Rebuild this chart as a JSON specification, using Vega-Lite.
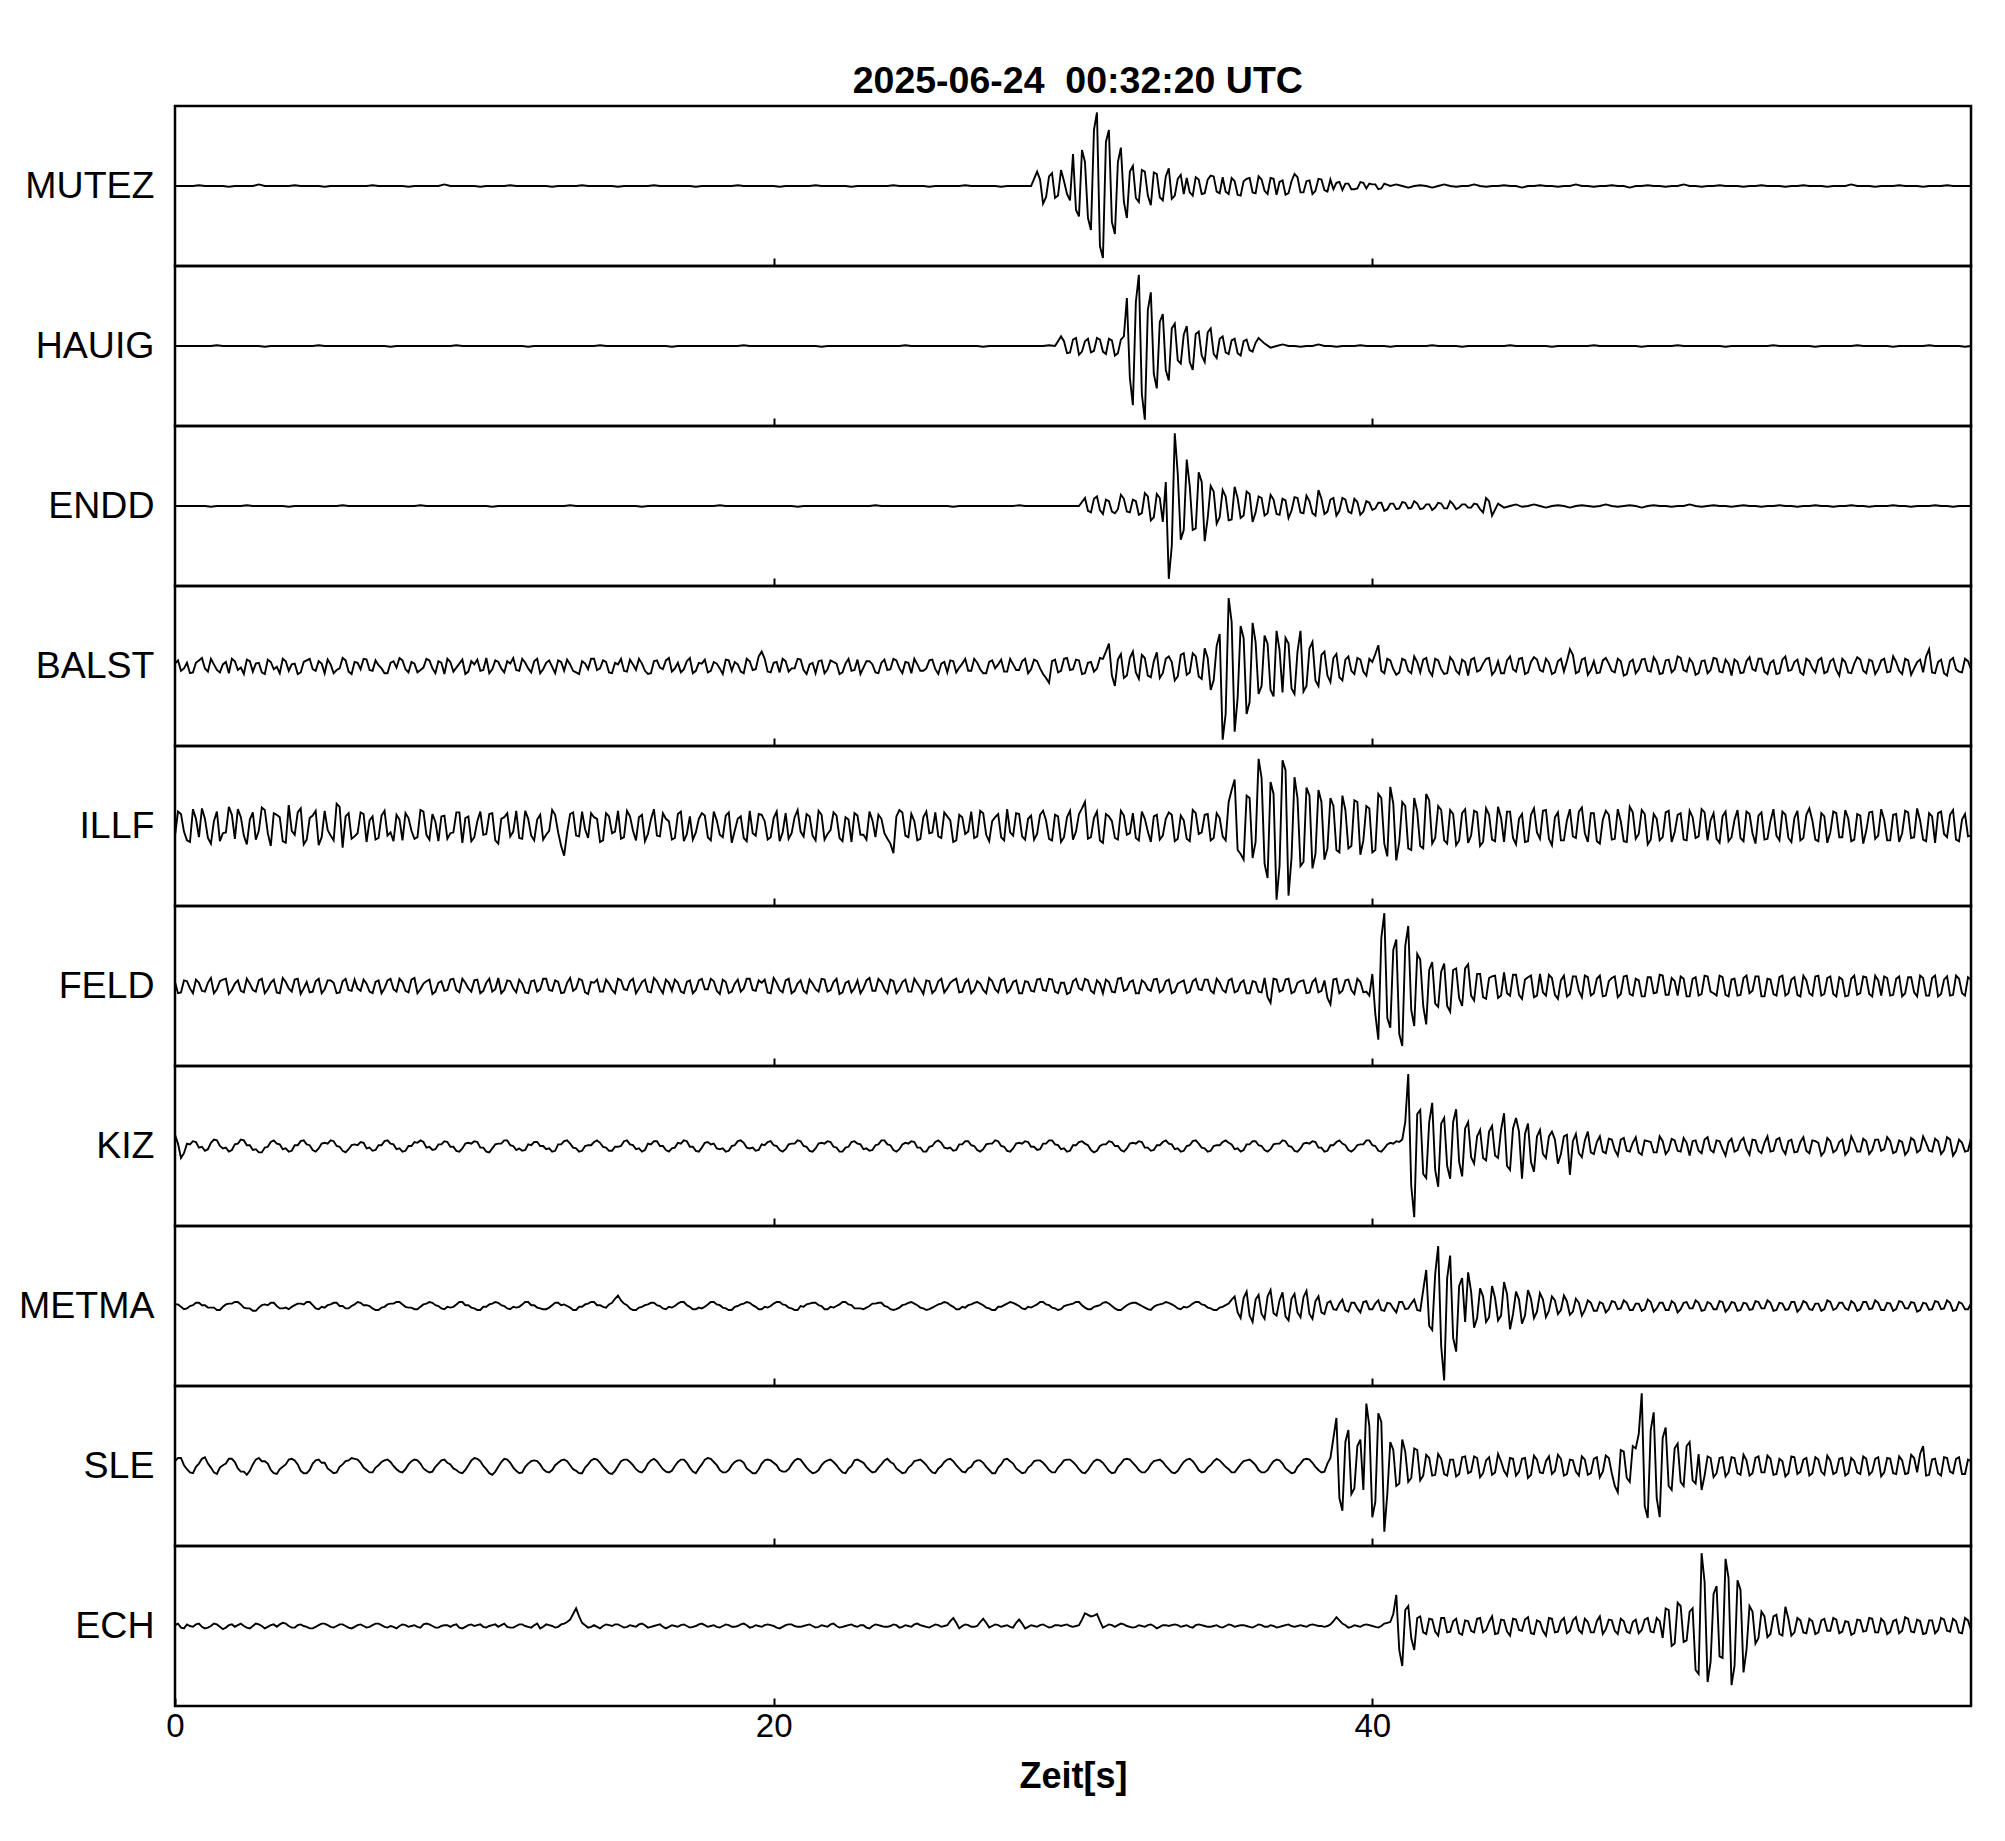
{
"$schema": "https://vega.github.io/schema/vega-lite/v6.json",
"background": "white",
"padding": {"left": 17, "top": 63, "right": 20, "bottom": 20},
"bounds": "flush",
"title": {"text": "2025-06-24\u00a0 00:32:20 UTC", "font": "Liberation Sans", "fontSize": 37.5, "fontWeight": "bold", "color": "black", "anchor": "middle", "offset": 4, "dx": 83},
"config": {"view": {"stroke": "black", "strokeWidth": 2.5}, "font": "Liberation Sans"},
"spacing": 0,
"datasets": {"w": [
{"t":0,"a":0,"b":0,"c":0,"d":3,"e":-12,"f":5,"g":14,"h":2,"i":6,"j":1},
{"t":0.2,"a":0,"b":0,"c":0,"d":-6,"e":15,"f":-8,"g":-15,"h":-1,"i":10,"j":-2},
{"t":0.4,"a":0,"b":0,"c":0,"d":4,"e":-18,"f":6,"g":3,"h":-3,"i":-4,"j":2},
{"t":0.6,"a":0,"b":0,"c":0,"d":-8,"e":21,"f":-9,"g":6,"h":1,"i":-9,"j":-1},
{"t":0.8,"a":1,"b":0,"c":0,"d":7,"e":-14,"f":4,"g":-2,"h":4,"i":3,"j":3},
{"t":1,"a":0,"b":0,"c":0,"d":-3,"e":9,"f":-7,"g":-6,"h":1,"i":11,"j":-3},
{"t":1.2,"a":0,"b":0,"c":-1,"d":9,"e":-22,"f":10,"g":4,"h":-2,"i":-2,"j":0},
{"t":1.4,"a":0,"b":1,"c":0,"d":-5,"e":18,"f":-4,"g":7,"h":-5,"i":-10,"j":2},
{"t":1.6,"a":0,"b":0,"c":0,"d":2,"e":-9,"f":8,"g":-3,"h":-1,"i":1,"j":-4},
{"t":1.8,"a":-1,"b":0,"c":0,"d":-9,"e":24,"f":-10,"g":-7,"h":3,"i":9,"j":1},
{"t":2,"a":0,"b":0,"c":0,"d":6,"e":-16,"f":3,"g":2,"h":5,"i":5,"j":-1},
{"t":2.2,"a":0,"b":0,"c":0,"d":-2,"e":11,"f":-6,"g":8,"h":2,"i":-7,"j":3},
{"t":2.4,"a":0,"b":0,"c":1,"d":8,"e":-23,"f":9,"g":1,"h":-3,"i":-11,"j":-2},
{"t":2.6,"a":0,"b":0,"c":0,"d":-7,"e":17,"f":-5,"g":-5,"h":-6,"i":2,"j":0},
{"t":2.8,"a":2,"b":0,"c":0,"d":4,"e":-6,"f":7,"g":-8,"h":-2,"i":10,"j":2},
{"t":3,"a":0,"b":-1,"c":0,"d":-10,"e":20,"f":-9,"g":-2,"h":2,"i":6,"j":-3},
{"t":3.2,"a":0,"b":0,"c":0,"d":5,"e":-25,"f":4,"g":5,"h":4,"i":-5,"j":1},
{"t":3.4,"a":0,"b":0,"c":0,"d":-1,"e":14,"f":-8,"g":3,"h":0,"i":-10,"j":-1},
{"t":3.6,"a":0,"b":0,"c":0,"d":9,"e":-19,"f":10,"g":-4,"h":-3,"i":-1,"j":4},
{"t":3.8,"a":0,"b":0,"c":-1,"d":-6,"e":26,"f":-3,"g":-7,"h":-4,"i":8,"j":0},
{"t":4,"a":1,"b":0,"c":0,"d":3,"e":-11,"f":8,"g":1,"h":1,"i":7,"j":-2},
{"t":4.2,"a":0,"b":0,"c":0,"d":-8,"e":22,"f":-10,"g":6,"h":3,"i":-6,"j":2},
{"t":4.4,"a":0,"b":0,"c":0,"d":7,"e":-17,"f":5,"g":2,"h":5,"i":-9,"j":-1},
{"t":4.6,"a":0,"b":0,"c":0,"d":-4,"e":13,"f":-7,"g":-5,"h":1,"i":3,"j":-3},
{"t":4.8,"a":0,"b":1,"c":0,"d":6,"e":-24,"f":9,"g":-3,"h":-4,"i":8,"j":1},
{"t":5,"a":-1,"b":0,"c":0,"d":-9,"e":19,"f":-4,"g":4,"h":-2,"i":4,"j":3},
{"t":5.2,"a":0,"b":0,"c":0,"d":2,"e":-12,"f":7,"g":7,"h":2,"i":-6,"j":-1},
{"t":5.4,"a":0,"b":0,"c":0,"d":-5,"e":28,"f":-9,"g":0,"h":4,"i":-8,"j":0},
{"t":5.6,"a":0,"b":0,"c":1,"d":10,"e":-27,"f":6,"g":-6,"h":0,"i":2,"j":2},
{"t":5.8,"a":0,"b":0,"c":0,"d":-7,"e":16,"f":-5,"g":-4,"h":-3,"i":7,"j":-2},
{"t":6,"a":0,"b":0,"c":0,"d":5,"e":-13,"f":8,"g":2,"h":2,"i":9,"j":-1},
{"t":6.2,"a":0,"b":0,"c":0,"d":-4,"e":17,"f":-6,"g":5,"h":4,"i":4,"j":2},
{"t":6.4,"a":0,"b":0,"c":0,"d":8,"e":-20,"f":3,"g":-3,"h":1,"i":-5,"j":-2},
{"t":6.6,"a":1,"b":0,"c":0,"d":-6,"e":12,"f":-9,"g":-6,"h":-3,"i":-8,"j":1},
{"t":6.8,"a":0,"b":0,"c":0,"d":1,"e":-15,"f":7,"g":1,"h":-5,"i":1,"j":3},
{"t":7,"a":0,"b":0,"c":0,"d":-9,"e":19,"f":-3,"g":6,"h":-1,"i":7,"j":-1},
{"t":7.2,"a":0,"b":-1,"c":0,"d":4,"e":-8,"f":9,"g":3,"h":3,"i":5,"j":0},
{"t":7.4,"a":0,"b":0,"c":0,"d":-2,"e":14,"f":-7,"g":-4,"h":5,"i":-4,"j":-3},
{"t":7.6,"a":0,"b":0,"c":0,"d":7,"e":-18,"f":5,"g":-7,"h":2,"i":-8,"j":2},
{"t":7.8,"a":-1,"b":0,"c":0,"d":-8,"e":10,"f":-8,"g":0,"h":-2,"i":2,"j":-1},
{"t":8,"a":0,"b":0,"c":0,"d":3,"e":-16,"f":10,"g":5,"h":-4,"i":8,"j":1},
{"t":8.2,"a":0,"b":0,"c":1,"d":-5,"e":20,"f":-4,"g":7,"h":-1,"i":3,"j":-2},
{"t":8.4,"a":0,"b":0,"c":0,"d":9,"e":-11,"f":6,"g":-2,"h":3,"i":-6,"j":3},
{"t":8.6,"a":0,"b":0,"c":0,"d":-3,"e":15,"f":-10,"g":-5,"h":4,"i":-7,"j":0},
{"t":8.8,"a":0,"b":0,"c":0,"d":6,"e":-19,"f":4,"g":2,"h":0,"i":3,"j":-2},
{"t":9,"a":2,"b":0,"c":0,"d":-10,"e":13,"f":-6,"g":6,"h":-4,"i":8,"j":1},
{"t":9.2,"a":0,"b":0,"c":0,"d":5,"e":-9,"f":8,"g":-1,"h":-2,"i":2,"j":-1},
{"t":9.4,"a":0,"b":1,"c":0,"d":-2,"e":17,"f":-5,"g":-6,"h":2,"i":-5,"j":2},
{"t":9.6,"a":0,"b":0,"c":0,"d":8,"e":-21,"f":9,"g":-3,"h":5,"i":-9,"j":-3},
{"t":9.8,"a":0,"b":0,"c":0,"d":-7,"e":12,"f":-3,"g":4,"h":1,"i":1,"j":1},
{"t":10,"a":0,"b":0,"c":0,"d":2,"e":-14,"f":7,"g":6,"h":-3,"i":10,"j":0},
{"t":10.2,"a":-1,"b":0,"c":0,"d":-6,"e":18,"f":-9,"g":-2,"h":-5,"i":6,"j":2},
{"t":10.4,"a":0,"b":0,"c":0,"d":10,"e":-10,"f":4,"g":-7,"h":-1,"i":-4,"j":-2},
{"t":10.6,"a":0,"b":0,"c":-1,"d":-4,"e":16,"f":-7,"g":-3,"h":3,"i":-11,"j":1},
{"t":10.8,"a":0,"b":0,"c":0,"d":5,"e":-22,"f":10,"g":3,"h":4,"i":-1,"j":-1},
{"t":11,"a":0,"b":0,"c":0,"d":-8,"e":11,"f":-5,"g":7,"h":0,"i":9,"j":3},
{"t":11.2,"a":1,"b":0,"c":0,"d":3,"e":-13,"f":6,"g":1,"h":-4,"i":4,"j":-2},
{"t":11.4,"a":0,"b":0,"c":0,"d":-5,"e":19,"f":-8,"g":-5,"h":-2,"i":-6,"j":0},
{"t":11.6,"a":0,"b":0,"c":0,"d":9,"e":-16,"f":3,"g":-6,"h":2,"i":-8,"j":2},
{"t":11.8,"a":0,"b":-1,"c":0,"d":-3,"e":9,"f":-9,"g":2,"h":5,"i":3,"j":-1},
{"t":12,"a":0,"b":0,"c":0,"d":6,"e":-18,"f":7,"g":5,"h":1,"i":7,"j":1},
{"t":12.2,"a":0,"b":0,"c":0,"d":-9,"e":14,"f":-4,"g":0,"h":-3,"i":2,"j":-3},
{"t":12.4,"a":0,"b":0,"c":0,"d":4,"e":-11,"f":9,"g":-4,"h":-4,"i":-7,"j":2},
{"t":12.6,"a":-1,"b":0,"c":0,"d":-1,"e":20,"f":-6,"g":-7,"h":1,"i":-5,"j":0},
{"t":12.8,"a":0,"b":0,"c":0,"d":7,"e":-8,"f":5,"g":2,"h":4,"i":4,"j":-1},
{"t":13,"a":0,"b":0,"c":0,"d":-6,"e":-37,"f":-8,"g":6,"h":2,"i":8,"j":3},
{"t":13.2,"a":0,"b":0,"c":1,"d":2,"e":15,"f":10,"g":3,"h":-2,"i":1,"j":8},
{"t":13.4,"a":0,"b":0,"c":0,"d":-8,"e":-12,"f":-3,"g":-3,"h":-5,"i":-6,"j":22},
{"t":13.6,"a":1,"b":0,"c":0,"d":6,"e":18,"f":7,"g":-6,"h":-1,"i":-9,"j":4},
{"t":13.8,"a":0,"b":0,"c":0,"d":-4,"e":-15,"f":-10,"g":1,"h":3,"i":2,"j":-2},
{"t":14,"a":0,"b":0,"c":0,"d":9,"e":11,"f":4,"g":5,"h":5,"i":9,"j":1},
{"t":14.2,"a":0,"b":1,"c":0,"d":-3,"e":-20,"f":-7,"g":4,"h":1,"i":4,"j":-3},
{"t":14.4,"a":0,"b":0,"c":0,"d":5,"e":16,"f":8,"g":-2,"h":-2,"i":-5,"j":2},
{"t":14.6,"a":0,"b":0,"c":0,"d":-9,"e":-9,"f":-5,"g":-6,"h":4,"i":-10,"j":0},
{"t":14.8,"a":-1,"b":0,"c":0,"d":2,"e":19,"f":9,"g":-1,"h":13,"i":0,"j":2},
{"t":15,"a":0,"b":0,"c":0,"d":-6,"e":-14,"f":-4,"g":6,"h":3,"i":8,"j":-2},
{"t":15.2,"a":0,"b":0,"c":0,"d":8,"e":12,"f":6,"g":2,"h":-3,"i":5,"j":1},
{"t":15.4,"a":0,"b":0,"c":0,"d":-5,"e":-18,"f":-9,"g":-4,"h":-5,"i":-4,"j":-1},
{"t":15.6,"a":0,"b":0,"c":-1,"d":3,"e":14,"f":5,"g":-7,"h":-1,"i":-8,"j":3},
{"t":15.8,"a":0,"b":0,"c":0,"d":-10,"e":-10,"f":-7,"g":3,"h":2,"i":3,"j":-2},
{"t":16,"a":1,"b":0,"c":0,"d":6,"e":21,"f":10,"g":6,"h":4,"i":9,"j":0},
{"t":16.2,"a":0,"b":0,"c":0,"d":-2,"e":-13,"f":-3,"g":0,"h":0,"i":1,"j":2},
{"t":16.4,"a":0,"b":0,"c":0,"d":7,"e":9,"f":8,"g":-5,"h":-4,"i":-7,"j":-3},
{"t":16.6,"a":0,"b":-1,"c":0,"d":-7,"e":-17,"f":-6,"g":-3,"h":-2,"i":-6,"j":1},
{"t":16.8,"a":0,"b":0,"c":0,"d":4,"e":15,"f":4,"g":4,"h":3,"i":5,"j":-1},
{"t":17,"a":0,"b":0,"c":0,"d":-4,"e":-19,"f":-9,"g":7,"h":5,"i":8,"j":2},
{"t":17.2,"a":0,"b":0,"c":0,"d":10,"e":12,"f":7,"g":-1,"h":-1,"i":-2,"j":-2},
{"t":17.4,"a":-1,"b":0,"c":0,"d":-6,"e":-8,"f":-5,"g":-6,"h":-4,"i":-9,"j":0},
{"t":17.6,"a":0,"b":0,"c":0,"d":3,"e":16,"f":9,"g":-2,"h":-3,"i":2,"j":3},
{"t":17.8,"a":0,"b":0,"c":0,"d":-8,"e":-14,"f":-4,"g":5,"h":2,"i":10,"j":-1},
{"t":18,"a":0,"b":0,"c":0,"d":5,"e":18,"f":6,"g":3,"h":5,"i":5,"j":1},
{"t":18.2,"a":0,"b":0,"c":1,"d":-3,"e":-11,"f":-10,"g":-4,"h":1,"i":-5,"j":-2},
{"t":18.4,"a":0,"b":0,"c":0,"d":8,"e":13,"f":5,"g":-7,"h":-3,"i":-8,"j":2},
{"t":18.6,"a":0,"b":0,"c":0,"d":-6,"e":-21,"f":-7,"g":0,"h":-5,"i":1,"j":-1},
{"t":18.8,"a":1,"b":0,"c":0,"d":2,"e":9,"f":8,"g":6,"h":0,"i":7,"j":0},
{"t":19,"a":0,"b":1,"c":0,"d":-9,"e":-15,"f":-3,"g":4,"h":3,"i":4,"j":3},
{"t":19.2,"a":0,"b":0,"c":0,"d":6,"e":19,"f":9,"g":-3,"h":4,"i":-6,"j":-2},
{"t":19.4,"a":0,"b":0,"c":0,"d":-4,"e":-12,"f":-6,"g":-6,"h":-1,"i":-9,"j":1},
{"t":19.6,"a":0,"b":0,"c":0,"d":18,"e":14,"f":4,"g":2,"h":-4,"i":3,"j":-1},
{"t":19.8,"a":0,"b":0,"c":0,"d":-7,"e":-17,"f":-8,"g":5,"h":-2,"i":8,"j":2},
{"t":20,"a":0,"b":0,"c":0,"d":4,"e":10,"f":10,"g":1,"h":3,"i":4,"j":0},
{"t":20.2,"a":-1,"b":0,"c":0,"d":-8,"e":-19,"f":-5,"g":-5,"h":5,"i":-5,"j":-3},
{"t":20.4,"a":0,"b":0,"c":0,"d":6,"e":16,"f":7,"g":-4,"h":1,"i":-7,"j":1},
{"t":20.6,"a":0,"b":0,"c":0,"d":-3,"e":-9,"f":-9,"g":3,"h":-3,"i":2,"j":2},
{"t":20.8,"a":0,"b":0,"c":-1,"d":9,"e":20,"f":3,"g":7,"h":-5,"i":9,"j":-1},
{"t":21,"a":0,"b":0,"c":0,"d":-5,"e":-13,"f":-6,"g":0,"h":-1,"i":3,"j":0},
{"t":21.2,"a":0,"b":0,"c":0,"d":2,"e":12,"f":8,"g":-6,"h":3,"i":-6,"j":2},
{"t":21.4,"a":1,"b":0,"c":0,"d":-9,"e":-18,"f":-4,"g":-3,"h":4,"i":-8,"j":-2},
{"t":21.6,"a":0,"b":-1,"c":0,"d":7,"e":14,"f":9,"g":4,"h":0,"i":1,"j":1},
{"t":21.8,"a":0,"b":0,"c":0,"d":-4,"e":-10,"f":-7,"g":6,"h":-4,"i":7,"j":-1},
{"t":22,"a":0,"b":0,"c":0,"d":5,"e":17,"f":5,"g":-1,"h":-2,"i":5,"j":3},
{"t":22.2,"a":0,"b":0,"c":0,"d":-10,"e":-15,"f":-10,"g":-7,"h":2,"i":-4,"j":-2},
{"t":22.4,"a":0,"b":0,"c":0,"d":3,"e":11,"f":4,"g":-2,"h":5,"i":-9,"j":0},
{"t":22.6,"a":-1,"b":0,"c":0,"d":-6,"e":-20,"f":-8,"g":5,"h":1,"i":0,"j":2},
{"t":22.8,"a":0,"b":0,"c":0,"d":8,"e":13,"f":7,"g":3,"h":-3,"i":8,"j":-1},
{"t":23,"a":0,"b":0,"c":0,"d":-2,"e":-11,"f":-3,"g":-4,"h":-4,"i":4,"j":1},
{"t":23.2,"a":0,"b":0,"c":0,"d":6,"e":18,"f":10,"g":-6,"h":0,"i":-5,"j":-3},
{"t":23.4,"a":0,"b":0,"c":1,"d":-8,"e":-14,"f":-6,"g":1,"h":3,"i":-7,"j":2},
{"t":23.6,"a":0,"b":0,"c":0,"d":4,"e":9,"f":5,"g":7,"h":4,"i":2,"j":0},
{"t":23.8,"a":0,"b":0,"c":0,"d":-5,"e":-16,"f":-9,"g":2,"h":-1,"i":9,"j":-1},
{"t":24,"a":1,"b":0,"c":0,"d":9,"e":-34,"f":6,"g":-5,"h":-5,"i":3,"j":2},
{"t":24.2,"a":0,"b":0,"c":0,"d":-3,"e":20,"f":-4,"g":-4,"h":-2,"i":-6,"j":-2},
{"t":24.4,"a":0,"b":1,"c":0,"d":5,"e":-12,"f":8,"g":4,"h":2,"i":-8,"j":1},
{"t":24.6,"a":0,"b":0,"c":0,"d":-9,"e":15,"f":-7,"g":6,"h":5,"i":1,"j":-1},
{"t":24.8,"a":0,"b":0,"c":0,"d":2,"e":-18,"f":3,"g":-2,"h":1,"i":7,"j":3},
{"t":25,"a":0,"b":0,"c":0,"d":-6,"e":11,"f":-10,"g":-7,"h":-3,"i":5,"j":0},
{"t":25.2,"a":-1,"b":0,"c":0,"d":7,"e":-9,"f":6,"g":-1,"h":-4,"i":-4,"j":-2},
{"t":25.4,"a":0,"b":0,"c":0,"d":-4,"e":17,"f":-5,"g":5,"h":0,"i":-9,"j":2},
{"t":25.6,"a":0,"b":0,"c":0,"d":3,"e":-15,"f":9,"g":4,"h":3,"i":0,"j":-1},
{"t":25.8,"a":0,"b":0,"c":0,"d":-8,"e":12,"f":-3,"g":-3,"h":4,"i":8,"j":1},
{"t":26,"a":0,"b":0,"c":-1,"d":6,"e":-20,"f":7,"g":-6,"h":-1,"i":6,"j":10},
{"t":26.2,"a":0,"b":0,"c":0,"d":-2,"e":14,"f":-8,"g":2,"h":-4,"i":-3,"j":-3},
{"t":26.4,"a":1,"b":0,"c":0,"d":9,"e":-10,"f":4,"g":6,"h":-2,"i":-8,"j":2},
{"t":26.6,"a":0,"b":0,"c":0,"d":-6,"e":18,"f":-9,"g":1,"h":2,"i":-1,"j":-1},
{"t":26.8,"a":0,"b":0,"c":0,"d":4,"e":-13,"f":6,"g":-5,"h":5,"i":7,"j":0},
{"t":27,"a":0,"b":-1,"c":0,"d":-9,"e":16,"f":-5,"g":-4,"h":1,"i":4,"j":9},
{"t":27.2,"a":0,"b":0,"c":0,"d":5,"e":-19,"f":10,"g":3,"h":-3,"i":-5,"j":-2},
{"t":27.4,"a":0,"b":0,"c":0,"d":-3,"e":11,"f":-4,"g":7,"h":-5,"i":-9,"j":2},
{"t":27.6,"a":-1,"b":0,"c":0,"d":8,"e":-14,"f":7,"g":0,"h":-1,"i":2,"j":-1},
{"t":27.8,"a":0,"b":0,"c":0,"d":-7,"e":21,"f":-8,"g":-6,"h":3,"i":9,"j":1},
{"t":28,"a":0,"b":0,"c":0,"d":2,"e":-12,"f":5,"g":-3,"h":4,"i":3,"j":-2},
{"t":28.2,"a":0,"b":0,"c":1,"d":-5,"e":15,"f":-9,"g":4,"h":0,"i":-6,"j":8},
{"t":28.4,"a":0,"b":0,"c":0,"d":9,"e":-17,"f":6,"g":6,"h":-4,"i":-8,"j":-3},
{"t":28.6,"a":0,"b":0,"c":0,"d":-4,"e":13,"f":-6,"g":-1,"h":-2,"i":1,"j":1},
{"t":28.8,"a":18,"b":0,"c":0,"d":6,"e":-10,"f":8,"g":-5,"h":2,"i":7,"j":-1},
{"t":29,"a":-22,"b":0,"c":0,"d":-10,"e":19,"f":-5,"g":3,"h":5,"i":4,"j":2},
{"t":29.2,"a":12,"b":1,"c":0,"d":-21,"e":-16,"f":9,"g":7,"h":1,"i":-5,"j":-2},
{"t":29.4,"a":-15,"b":0,"c":0,"d":8,"e":14,"f":-7,"g":2,"h":-3,"i":-8,"j":1},
{"t":29.6,"a":20,"b":12,"c":0,"d":-6,"e":-20,"f":4,"g":-4,"h":-4,"i":2,"j":0},
{"t":29.8,"a":-10,"b":-9,"c":0,"d":10,"e":11,"f":-10,"g":-7,"h":1,"i":8,"j":2},
{"t":30,"a":40,"b":8,"c":0,"d":-4,"e":-17,"f":6,"g":1,"h":3,"i":5,"j":-1},
{"t":30.2,"a":-38,"b":-11,"c":0,"d":7,"e":15,"f":-3,"g":5,"h":5,"i":-4,"j":1},
{"t":30.4,"a":30,"b":6,"c":10,"d":-9,"e":30,"f":9,"g":3,"h":-2,"i":-9,"j":16},
{"t":30.6,"a":-55,"b":-8,"c":-8,"d":5,"e":-14,"f":-6,"g":-5,"h":-4,"i":1,"j":12},
{"t":30.8,"a":92,"b":10,"c":12,"d":-3,"e":18,"f":7,"g":-6,"h":0,"i":8,"j":15},
{"t":31,"a":-90,"b":-7,"c":-10,"d":9,"e":-21,"f":-9,"g":2,"h":4,"i":4,"j":-2},
{"t":31.2,"a":70,"b":9,"c":6,"d":28,"e":12,"f":5,"g":6,"h":3,"i":-6,"j":2},
{"t":31.4,"a":-60,"b":-12,"c":-9,"d":-25,"e":-15,"f":-8,"g":0,"h":-3,"i":-8,"j":-1},
{"t":31.6,"a":48,"b":8,"c":14,"d":15,"e":19,"f":10,"g":-5,"h":-5,"i":3,"j":3},
{"t":31.8,"a":-40,"b":60,"c":-7,"d":-12,"e":-11,"f":-4,"g":-3,"h":1,"i":9,"j":0},
{"t":32,"a":25,"b":-74,"c":8,"d":18,"e":16,"f":7,"g":4,"h":4,"i":4,"j":-2},
{"t":32.2,"a":-20,"b":89,"c":-11,"d":-16,"e":-18,"f":-9,"g":6,"h":2,"i":-5,"j":1},
{"t":32.4,"a":18,"b":-92,"c":16,"d":10,"e":9,"f":4,"g":-2,"h":-2,"i":-8,"j":-1},
{"t":32.6,"a":-24,"b":67,"c":-18,"d":-14,"e":-20,"f":-6,"g":-6,"h":-5,"i":2,"j":2},
{"t":32.8,"a":15,"b":-53,"c":15,"d":17,"e":14,"f":9,"g":1,"h":1,"i":7,"j":-3},
{"t":33,"a":-18,"b":40,"c":-20,"d":-9,"e":-12,"f":-5,"g":5,"h":3,"i":5,"j":1},
{"t":33.2,"a":22,"b":-43,"c":-91,"d":12,"e":17,"f":8,"g":3,"h":4,"i":-4,"j":0},
{"t":33.4,"a":-12,"b":28,"c":91,"d":-18,"e":-19,"f":-7,"g":-4,"h":0,"i":-9,"j":2},
{"t":33.6,"a":14,"b":-22,"c":-42,"d":14,"e":13,"f":5,"g":-7,"h":-4,"i":0,"j":-1},
{"t":33.8,"a":10,"b":25,"c":58,"d":-11,"e":-16,"f":-9,"g":0,"h":-2,"i":8,"j":1},
{"t":34,"a":-12,"b":-30,"c":-30,"d":16,"e":20,"f":6,"g":6,"h":3,"i":6,"j":-2},
{"t":34.2,"a":8,"b":18,"c":42,"d":-13,"e":-10,"f":-4,"g":3,"h":5,"i":-5,"j":2},
{"t":34.4,"a":-9,"b":-20,"c":-44,"d":22,"e":14,"f":8,"g":-3,"h":1,"i":-7,"j":0},
{"t":34.6,"a":13,"b":22,"c":25,"d":-30,"e":-18,"f":-6,"g":-6,"h":-3,"i":1,"j":-1},
{"t":34.8,"a":-7,"b":-15,"c":-22,"d":25,"e":16,"f":9,"g":1,"h":-5,"i":9,"j":1},
{"t":35,"a":11,"b":12,"c":20,"d":-92,"e":-13,"f":-5,"g":5,"h":-1,"i":3,"j":-2},
{"t":35.2,"a":-10,"b":-10,"c":-18,"d":85,"e":30,"f":7,"g":4,"h":3,"i":-4,"j":2},
{"t":35.4,"a":6,"b":9,"c":24,"d":-82,"e":58,"f":-8,"g":-4,"h":12,"i":-8,"j":-1},
{"t":35.6,"a":-12,"b":-12,"c":-15,"d":50,"e":-35,"f":4,"g":-7,"h":-15,"i":2,"j":1},
{"t":35.8,"a":9,"b":8,"c":18,"d":-60,"e":38,"f":-9,"g":2,"h":18,"i":7,"j":0},
{"t":36,"a":-8,"b":-7,"c":-20,"d":54,"e":-40,"f":6,"g":6,"h":-20,"i":5,"j":-2},
{"t":36.2,"a":12,"b":10,"c":12,"d":-35,"e":84,"f":-7,"g":1,"h":14,"i":-5,"j":2},
{"t":36.4,"a":-6,"b":3,"c":-12,"d":38,"e":-47,"f":10,"g":-5,"h":-16,"i":-8,"j":-1},
{"t":36.6,"a":10,"b":-2,"c":14,"d":-30,"e":55,"f":-21,"g":-4,"h":20,"i":1,"j":1},
{"t":36.8,"a":-11,"b":0,"c":-10,"d":44,"e":-92,"f":8,"g":3,"h":-12,"i":8,"j":-2},
{"t":37,"a":7,"b":2,"c":9,"d":-33,"e":82,"f":-5,"g":7,"h":17,"i":3,"j":0},
{"t":37.2,"a":-9,"b":0,"c":-15,"d":28,"e":-87,"f":9,"g":0,"h":-18,"i":-6,"j":2},
{"t":37.4,"a":15,"b":0,"c":11,"d":-35,"e":61,"f":-7,"g":-6,"h":15,"i":-8,"j":-1},
{"t":37.6,"a":-8,"b":-1,"c":-8,"d":44,"e":-50,"f":6,"g":-3,"h":-14,"i":3,"j":1},
{"t":37.8,"a":6,"b":0,"c":13,"d":-25,"e":48,"f":-9,"g":4,"h":19,"i":9,"j":-1},
{"t":38,"a":-10,"b":0,"c":-9,"d":30,"e":-53,"f":5,"g":6,"h":-16,"i":4,"j":2},
{"t":38.2,"a":9,"b":2,"c":20,"d":-25,"e":45,"f":-8,"g":-2,"h":12,"i":-5,"j":0},
{"t":38.4,"a":-5,"b":0,"c":-10,"d":18,"e":-42,"f":7,"g":-7,"h":-10,"i":-7,"j":-1},
{"t":38.6,"a":8,"b":0,"c":8,"d":-20,"e":35,"f":-23,"g":1,"h":6,"i":10,"j":2},
{"t":38.8,"a":4,"b":-1,"c":-12,"d":15,"e":-30,"f":9,"g":5,"h":-5,"i":60,"j":11},
{"t":39,"a":-5,"b":0,"c":10,"d":-18,"e":38,"f":-6,"g":3,"h":8,"i":-56,"j":3},
{"t":39.2,"a":3,"b":0,"c":-7,"d":12,"e":-28,"f":8,"g":-5,"h":-7,"i":45,"j":-2},
{"t":39.4,"a":-4,"b":0,"c":9,"d":-10,"e":32,"f":-10,"g":-4,"h":4,"i":-28,"j":1},
{"t":39.6,"a":5,"b":1,"c":-11,"d":8,"e":-36,"f":5,"g":2,"h":-8,"i":33,"j":-1},
{"t":39.8,"a":-3,"b":0,"c":6,"d":-12,"e":25,"f":-7,"g":7,"h":6,"i":78,"j":2},
{"t":40,"a":2,"b":0,"c":-5,"d":5,"e":-33,"f":15,"g":1,"h":-4,"i":-64,"j":0},
{"t":40.2,"a":-4,"b":0,"c":4,"d":26,"e":40,"f":-67,"g":-6,"h":7,"i":66,"j":-2},
{"t":40.4,"a":3,"b":0,"c":-6,"d":-9,"e":-22,"f":91,"g":-3,"h":-6,"i":-82,"j":3},
{"t":40.6,"a":0,"b":-1,"c":3,"d":7,"e":49,"f":-52,"g":4,"h":3,"i":30,"j":5},
{"t":40.8,"a":2,"b":0,"c":-4,"d":-11,"e":-43,"f":58,"g":6,"h":-8,"i":-25,"j":39},
{"t":41,"a":0,"b":0,"c":5,"d":9,"e":30,"f":-75,"g":8,"h":5,"i":33,"j":-50},
{"t":41.2,"a":-2,"b":0,"c":-3,"d":-6,"e":-28,"f":75,"g":90,"h":-3,"i":-20,"j":25},
{"t":41.4,"a":0,"b":0,"c":6,"d":12,"e":35,"f":-50,"g":-89,"h":8,"i":22,"j":-30},
{"t":41.6,"a":1,"b":0,"c":-4,"d":-8,"e":-25,"f":33,"g":45,"h":-6,"i":-18,"j":12},
{"t":41.8,"a":0,"b":0,"c":2,"d":10,"e":40,"f":-48,"g":-40,"h":45,"i":14,"j":-10},
{"t":42,"a":-2,"b":1,"c":-5,"d":-12,"e":-22,"f":30,"g":54,"h":-30,"i":-12,"j":8},
{"t":42.2,"a":0,"b":0,"c":4,"d":7,"e":25,"f":-26,"g":-51,"h":75,"i":15,"j":-12},
{"t":42.4,"a":2,"b":0,"c":-3,"d":-10,"e":-18,"f":28,"g":35,"h":-93,"i":-10,"j":10},
{"t":42.6,"a":0,"b":0,"c":6,"d":11,"e":20,"f":-32,"g":-41,"h":63,"i":8,"j":-7},
{"t":42.8,"a":-1,"b":0,"c":-4,"d":-6,"e":-24,"f":22,"g":46,"h":-57,"i":-13,"j":9},
{"t":43,"a":0,"b":-1,"c":2,"d":8,"e":16,"f":-25,"g":-38,"h":35,"i":11,"j":-11},
{"t":43.2,"a":0,"b":0,"c":-2,"d":-12,"e":-21,"f":27,"g":30,"h":42,"i":-9,"j":6},
{"t":43.4,"a":2,"b":0,"c":3,"d":10,"e":19,"f":-18,"g":-22,"h":-27,"i":12,"j":-8},
{"t":43.6,"a":0,"b":0,"c":-4,"d":-5,"e":-25,"f":15,"g":20,"h":22,"i":-14,"j":10},
{"t":43.8,"a":-1,"b":0,"c":10,"d":9,"e":22,"f":-16,"g":-18,"h":-20,"i":7,"j":-5},
{"t":44,"a":0,"b":0,"c":-12,"d":-11,"e":-17,"f":12,"g":25,"h":25,"i":-11,"j":12},
{"t":44.2,"a":0,"b":0,"c":3,"d":6,"e":24,"f":-15,"g":-15,"h":-18,"i":15,"j":-9},
{"t":44.4,"a":1,"b":0,"c":-2,"d":-9,"e":-20,"f":17,"g":41,"h":30,"i":-6,"j":7},
{"t":44.6,"a":0,"b":1,"c":0,"d":12,"e":18,"f":-12,"g":-30,"h":-29,"i":10,"j":-12},
{"t":44.8,"a":0,"b":0,"c":2,"d":-7,"e":-23,"f":14,"g":35,"h":18,"i":-12,"j":8},
{"t":45,"a":-2,"b":0,"c":-1,"d":10,"e":15,"f":-16,"g":-41,"h":-22,"i":9,"j":-6},
{"t":45.2,"a":0,"b":0,"c":0,"d":-8,"e":-19,"f":11,"g":28,"h":20,"i":-15,"j":11},
{"t":45.4,"a":0,"b":0,"c":2,"d":11,"e":22,"f":-14,"g":-32,"h":-15,"i":13,"j":-10},
{"t":45.6,"a":1,"b":0,"c":0,"d":-5,"e":-16,"f":15,"g":20,"h":16,"i":-8,"j":5},
{"t":45.8,"a":0,"b":0,"c":-2,"d":9,"e":20,"f":-12,"g":-15,"h":-14,"i":6,"j":-12},
{"t":46,"a":0,"b":-1,"c":0,"d":-10,"e":-24,"f":10,"g":18,"h":12,"i":-10,"j":9},
{"t":46.2,"a":-1,"b":0,"c":1,"d":6,"e":17,"f":-16,"g":-22,"h":-10,"i":14,"j":-7},
{"t":46.4,"a":0,"b":0,"c":0,"d":-7,"e":-18,"f":13,"g":12,"h":13,"i":-12,"j":10},
{"t":46.6,"a":0,"b":0,"c":-2,"d":21,"e":21,"f":-10,"g":-36,"h":-11,"i":8,"j":-6},
{"t":46.8,"a":2,"b":0,"c":0,"d":-9,"e":-15,"f":12,"g":15,"h":9,"i":-7,"j":11},
{"t":47,"a":0,"b":0,"c":1,"d":8,"e":23,"f":-14,"g":-14,"h":-12,"i":12,"j":-9},
{"t":47.2,"a":0,"b":0,"c":0,"d":-11,"e":-20,"f":11,"g":18,"h":7,"i":-11,"j":5},
{"t":47.4,"a":-1,"b":1,"c":-1,"d":6,"e":16,"f":-9,"g":-10,"h":-6,"i":9,"j":-8},
{"t":47.6,"a":0,"b":0,"c":0,"d":-8,"e":-22,"f":13,"g":12,"h":5,"i":-14,"j":12},
{"t":47.8,"a":0,"b":0,"c":2,"d":10,"e":19,"f":-12,"g":-9,"h":-8,"i":13,"j":-4},
{"t":48,"a":1,"b":0,"c":0,"d":-6,"e":-17,"f":10,"g":8,"h":6,"i":-9,"j":7},
{"t":48.2,"a":0,"b":0,"c":-1,"d":9,"e":21,"f":-14,"g":-12,"h":-4,"i":-33,"j":-10},
{"t":48.4,"a":0,"b":0,"c":0,"d":-12,"e":-19,"f":12,"g":10,"h":7,"i":18,"j":6},
{"t":48.6,"a":-2,"b":0,"c":1,"d":5,"e":24,"f":-10,"g":-7,"h":-5,"i":-20,"j":-9},
{"t":48.8,"a":0,"b":0,"c":0,"d":-9,"e":-16,"f":9,"g":11,"h":3,"i":22,"j":8},
{"t":49,"a":0,"b":-1,"c":-2,"d":8,"e":20,"f":-13,"g":-11,"h":-6,"i":91,"j":-5},
{"t":49.2,"a":1,"b":0,"c":0,"d":-6,"e":-23,"f":11,"g":6,"h":8,"i":-65,"j":10},
{"t":49.4,"a":0,"b":0,"c":1,"d":11,"e":15,"f":-9,"g":-8,"h":-7,"i":67,"j":-8},
{"t":49.6,"a":0,"b":0,"c":0,"d":-10,"e":-18,"f":14,"g":12,"h":4,"i":-64,"j":6},
{"t":49.8,"a":-1,"b":0,"c":0,"d":7,"e":17,"f":-11,"g":-10,"h":-5,"i":48,"j":22},
{"t":50,"a":0,"b":0,"c":-1,"d":-8,"e":-20,"f":10,"g":9,"h":6,"i":-30,"j":-25},
{"t":50.2,"a":0,"b":1,"c":0,"d":12,"e":14,"f":-12,"g":-6,"h":-8,"i":28,"j":29},
{"t":50.4,"a":2,"b":0,"c":0,"d":-5,"e":-17,"f":9,"g":10,"h":4,"i":-25,"j":-20},
{"t":50.6,"a":0,"b":0,"c":2,"d":9,"e":19,"f":-13,"g":-12,"h":-3,"i":30,"j":18},
{"t":50.8,"a":0,"b":0,"c":0,"d":-11,"e":-15,"f":11,"g":7,"h":7,"i":-22,"j":-55},
{"t":51,"a":-1,"b":0,"c":-1,"d":6,"e":21,"f":-10,"g":-9,"h":-6,"i":-30,"j":91},
{"t":51.2,"a":0,"b":0,"c":0,"d":-9,"e":-18,"f":12,"g":11,"h":5,"i":12,"j":-70},
{"t":51.4,"a":0,"b":0,"c":1,"d":10,"e":16,"f":-9,"g":-8,"h":-4,"i":-14,"j":40},
{"t":51.6,"a":1,"b":0,"c":0,"d":-7,"e":-21,"f":13,"g":6,"h":6,"i":10,"j":-38},
{"t":51.8,"a":0,"b":-1,"c":0,"d":8,"e":18,"f":-11,"g":-12,"h":-7,"i":-13,"j":84},
{"t":52,"a":0,"b":0,"c":-1,"d":-12,"e":-14,"f":8,"g":9,"h":5,"i":11,"j":-74},
{"t":52.2,"a":0,"b":0,"c":0,"d":5,"e":20,"f":-12,"g":-5,"h":-6,"i":-9,"j":57},
{"t":52.4,"a":-1,"b":0,"c":1,"d":-8,"e":-19,"f":10,"g":10,"h":4,"i":14,"j":-58},
{"t":52.6,"a":0,"b":0,"c":0,"d":11,"e":15,"f":-9,"g":-11,"h":-5,"i":-12,"j":25},
{"t":52.8,"a":0,"b":0,"c":0,"d":-6,"e":-22,"f":12,"g":7,"h":6,"i":10,"j":-22},
{"t":53,"a":1,"b":0,"c":-1,"d":9,"e":17,"f":-13,"g":-9,"h":-3,"i":-8,"j":18},
{"t":53.2,"a":0,"b":0,"c":0,"d":-10,"e":-16,"f":9,"g":12,"h":7,"i":13,"j":-14},
{"t":53.4,"a":0,"b":1,"c":0,"d":7,"e":21,"f":-10,"g":-6,"h":-6,"i":-11,"j":12},
{"t":53.6,"a":0,"b":0,"c":1,"d":-9,"e":-18,"f":11,"g":10,"h":4,"i":9,"j":-10},
{"t":53.8,"a":-1,"b":0,"c":0,"d":12,"e":14,"f":-12,"g":-10,"h":-5,"i":-13,"j":24},
{"t":54,"a":0,"b":0,"c":0,"d":-5,"e":-20,"f":8,"g":8,"h":5,"i":12,"j":-12},
{"t":54.2,"a":0,"b":0,"c":-1,"d":8,"e":19,"f":-11,"g":-7,"h":-7,"i":-10,"j":10},
{"t":54.4,"a":1,"b":0,"c":0,"d":-11,"e":-15,"f":13,"g":11,"h":6,"i":8,"j":-8},
{"t":54.6,"a":0,"b":0,"c":0,"d":6,"e":22,"f":-9,"g":-9,"h":-4,"i":-12,"j":9},
{"t":54.8,"a":0,"b":-1,"c":1,"d":-8,"e":-17,"f":12,"g":6,"h":3,"i":11,"j":-10},
{"t":55,"a":0,"b":0,"c":0,"d":10,"e":16,"f":-12,"g":-12,"h":-6,"i":-7,"j":7},
{"t":55.2,"a":-1,"b":0,"c":0,"d":-7,"e":-21,"f":10,"g":10,"h":7,"i":13,"j":-6},
{"t":55.4,"a":0,"b":0,"c":-1,"d":9,"e":18,"f":-10,"g":-8,"h":-5,"i":-10,"j":10},
{"t":55.6,"a":0,"b":0,"c":0,"d":-12,"e":-14,"f":11,"g":5,"h":4,"i":9,"j":-9},
{"t":55.8,"a":0,"b":0,"c":0,"d":5,"e":20,"f":-13,"g":-11,"h":-3,"i":-12,"j":6},
{"t":56,"a":2,"b":0,"c":1,"d":-9,"e":-19,"f":9,"g":12,"h":6,"i":10,"j":-11},
{"t":56.2,"a":0,"b":1,"c":0,"d":11,"e":15,"f":-11,"g":-7,"h":-6,"i":-8,"j":8},
{"t":56.4,"a":0,"b":0,"c":0,"d":-6,"e":-22,"f":12,"g":9,"h":5,"i":12,"j":-7},
{"t":56.6,"a":0,"b":0,"c":-1,"d":8,"e":17,"f":-10,"g":-10,"h":-4,"i":-11,"j":10},
{"t":56.8,"a":-1,"b":0,"c":0,"d":-10,"e":-16,"f":13,"g":8,"h":7,"i":9,"j":-8},
{"t":57,"a":0,"b":0,"c":0,"d":7,"e":21,"f":-12,"g":-6,"h":-5,"i":-13,"j":9},
{"t":57.2,"a":0,"b":0,"c":0,"d":-8,"e":-18,"f":10,"g":11,"h":4,"i":10,"j":-10},
{"t":57.4,"a":0,"b":-1,"c":1,"d":12,"e":14,"f":-11,"g":-9,"h":-6,"i":-9,"j":6},
{"t":57.6,"a":1,"b":0,"c":0,"d":-6,"e":-20,"f":12,"g":7,"h":6,"i":12,"j":-9},
{"t":57.8,"a":0,"b":0,"c":0,"d":9,"e":19,"f":-9,"g":-11,"h":-3,"i":-10,"j":11},
{"t":58,"a":0,"b":0,"c":-1,"d":-11,"e":-15,"f":11,"g":10,"h":5,"i":14,"j":-7},
{"t":58.2,"a":0,"b":0,"c":0,"d":5,"e":22,"f":-13,"g":-8,"h":-7,"i":-8,"j":8},
{"t":58.4,"a":-1,"b":0,"c":0,"d":-8,"e":-17,"f":10,"g":12,"h":4,"i":25,"j":-10},
{"t":58.6,"a":0,"b":1,"c":0,"d":21,"e":16,"f":-12,"g":-6,"h":-5,"i":-11,"j":7},
{"t":58.8,"a":0,"b":0,"c":1,"d":-9,"e":-21,"f":13,"g":9,"h":6,"i":9,"j":-9},
{"t":59,"a":0,"b":0,"c":0,"d":8,"e":18,"f":-10,"g":-10,"h":-4,"i":-12,"j":10},
{"t":59.2,"a":1,"b":0,"c":0,"d":-12,"e":-14,"f":12,"g":11,"h":7,"i":10,"j":-6},
{"t":59.4,"a":0,"b":0,"c":-1,"d":10,"e":20,"f":-11,"g":-12,"h":-6,"i":-9,"j":9},
{"t":59.6,"a":0,"b":0,"c":0,"d":-7,"e":-19,"f":9,"g":8,"h":5,"i":11,"j":-8},
{"t":59.8,"a":0,"b":-1,"c":0,"d":9,"e":15,"f":-12,"g":-7,"h":-4,"i":-10,"j":10},
{"t":60,"a":0,"b":0,"c":0,"d":-4,"e":-12,"f":8,"g":9,"h":3,"i":6,"j":-5},
{"t":0.1,"d":7,"e":18,"f":-9},{"t":0.3,"d":-3,"e":-7,"f":7},{"t":0.5,"d":-9,"e":-20,"f":-3},{"t":0.7,"d":4,"e":9,"f":8},{"t":0.9,"d":10,"e":22,"f":-6},
{"t":1.1,"d":-7,"e":-15,"f":4},{"t":1.3,"d":2,"e":6,"f":-9},{"t":1.5,"d":-8,"e":-19,"f":6},{"t":1.7,"d":5,"e":-8,"f":9},{"t":1.9,"d":9,"e":14,"f":-5},
{"t":2.1,"d":-5,"e":21,"f":7},{"t":2.3,"d":-10,"e":-12,"f":-8},{"t":2.5,"d":6,"e":8,"f":3},{"t":2.7,"d":3,"e":-17,"f":-7},{"t":2.9,"d":-8,"e":23,"f":9},
{"t":3.1,"d":8,"e":-9,"f":-4},{"t":3.3,"d":-4,"e":16,"f":8},{"t":3.5,"d":-9,"e":11,"f":-9},{"t":3.7,"d":6,"e":-21,"f":5},{"t":3.9,"d":2,"e":-6,"f":-7},
{"t":4.1,"d":-10,"e":17,"f":9},{"t":4.3,"d":5,"e":-23,"f":-3},{"t":4.5,"d":9,"e":10,"f":-8},{"t":4.7,"d":-6,"e":19,"f":6},{"t":4.9,"d":3,"e":-14,"f":-9},
{"t":5.1,"d":8,"e":-5,"f":7},{"t":5.3,"d":-9,"e":-18,"f":4},{"t":5.5,"d":-3,"e":24,"f":-8},{"t":5.7,"d":7,"e":12,"f":9},{"t":5.9,"d":-10,"e":-16,"f":-6},
{"t":6.1,"d":4,"e":-9,"f":-3},{"t":6.3,"d":9,"e":15,"f":8},{"t":6.5,"d":-5,"e":7,"f":-7},{"t":6.7,"d":7,"e":-17,"f":5},{"t":6.9,"d":-3,"e":13,"f":-9},
{"t":7.1,"d":-9,"e":-12,"f":7},{"t":7.3,"d":6,"e":-19,"f":-4},{"t":7.5,"d":10,"e":8,"f":9},{"t":7.7,"d":-4,"e":16,"f":-6},{"t":7.9,"d":5,"e":-6,"f":8},
{"t":8.1,"d":-8,"e":-14,"f":-9},{"t":8.3,"d":-2,"e":18,"f":3},{"t":8.5,"d":7,"e":-17,"f":8},{"t":8.7,"d":-9,"e":5,"f":-7},{"t":8.9,"d":4,"e":12,"f":6},
{"t":9.1,"d":9,"e":-16,"f":-5},{"t":9.3,"d":-7,"e":-8,"f":9},{"t":9.5,"d":3,"e":17,"f":-8},{"t":9.7,"d":-10,"e":10,"f":4},{"t":9.9,"d":6,"e":-19,"f":-7},
{"t":10.1,"d":8,"e":6,"f":8},{"t":10.3,"d":-5,"e":-11,"f":-6},{"t":10.5,"d":-9,"e":15,"f":9},{"t":10.7,"d":7,"e":-18,"f":-4},{"t":10.9,"d":-3,"e":9,"f":-9},
{"t":11.1,"d":6,"e":16,"f":7},{"t":11.3,"d":10,"e":-7,"f":-3},{"t":11.5,"d":-6,"e":-15,"f":8},{"t":11.7,"d":4,"e":19,"f":-8},{"t":11.9,"d":-8,"e":-12,"f":6},
{"t":12.1,"d":9,"e":8,"f":-7},{"t":12.3,"d":-4,"e":-17,"f":9},{"t":12.5,"d":7,"e":-6,"f":-5},{"t":12.7,"d":-9,"e":14,"f":7},{"t":12.9,"d":5,"e":-25,"f":-9},
{"t":13.1,"d":8,"e":-8,"f":4},{"t":13.3,"d":-6,"e":17,"f":-6},{"t":13.5,"d":-10,"e":-13,"f":9},{"t":13.7,"d":3,"e":-4,"f":-8},{"t":13.9,"d":9,"e":16,"f":5},
{"t":14.1,"d":-5,"e":9,"f":8},{"t":14.3,"d":7,"e":-18,"f":-7},{"t":14.5,"d":-8,"e":12,"f":3},{"t":14.7,"d":4,"e":-7,"f":-9},{"t":14.9,"d":9,"e":-16,"f":7},
{"t":15.1,"d":-7,"e":19,"f":-5},{"t":15.3,"d":2,"e":-6,"f":9},{"t":15.5,"d":9,"e":11,"f":-3},{"t":15.7,"d":-6,"e":-19,"f":8},{"t":15.9,"d":-9,"e":8,"f":-8},
{"t":16.1,"d":7,"e":-12,"f":6},{"t":16.3,"d":-4,"e":16,"f":-9},{"t":16.5,"d":10,"e":6,"f":4},{"t":16.7,"d":-3,"e":-15,"f":8},{"t":16.9,"d":-8,"e":18,"f":-7},
{"t":17.1,"d":6,"e":-10,"f":5},{"t":17.3,"d":-9,"e":-17,"f":-9},{"t":17.5,"d":4,"e":9,"f":7},{"t":17.7,"d":8,"e":13,"f":-4},{"t":17.9,"d":-6,"e":-18,"f":9},
{"t":18.1,"d":3,"e":7,"f":-6},{"t":18.3,"d":-10,"e":-14,"f":8},{"t":18.5,"d":7,"e":17,"f":-9},{"t":18.7,"d":5,"e":-6,"f":3},{"t":18.9,"d":-7,"e":12,"f":-7},
{"t":19.1,"d":9,"e":-19,"f":9},{"t":19.3,"d":-5,"e":-9,"f":-5},{"t":19.5,"d":12,"e":15,"f":7},{"t":19.7,"d":9,"e":6,"f":8},{"t":19.9,"d":-8,"e":-14,"f":-9},
{"t":20.1,"d":5,"e":18,"f":4},{"t":20.3,"d":9,"e":-8,"f":-8},{"t":20.5,"d":-7,"e":-16,"f":9},{"t":20.7,"d":-3,"e":11,"f":-6},{"t":20.9,"d":8,"e":-7,"f":7},
{"t":21.1,"d":-10,"e":15,"f":-9},{"t":21.3,"d":4,"e":-12,"f":3},{"t":21.5,"d":6,"e":19,"f":-7},{"t":21.7,"d":-9,"e":-17,"f":8},{"t":21.9,"d":7,"e":-5,"f":-5},
{"t":22.1,"d":3,"e":13,"f":9},{"t":22.3,"d":-8,"e":-19,"f":-8},{"t":22.5,"d":9,"e":8,"f":6},{"t":22.7,"d":-5,"e":16,"f":-3},{"t":22.9,"d":-10,"e":-11,"f":-9},
{"t":23.1,"d":6,"e":-17,"f":7},{"t":23.3,"d":2,"e":7,"f":-6},{"t":23.5,"d":-9,"e":14,"f":9},{"t":23.7,"d":8,"e":-9,"f":-4},{"t":23.9,"d":-4,"e":-22,"f":8},
{"t":24.1,"d":7,"e":12,"f":-9},{"t":24.3,"d":-9,"e":17,"f":5},{"t":24.5,"d":4,"e":-14,"f":-7},{"t":24.7,"d":9,"e":6,"f":9},{"t":24.9,"d":-6,"e":-16,"f":-3},
{"t":25.1,"d":-3,"e":18,"f":7},{"t":25.3,"d":8,"e":-8,"f":-9},{"t":25.5,"d":-10,"e":-13,"f":6},{"t":25.7,"d":5,"e":17,"f":-8},{"t":25.9,"d":7,"e":7,"f":4},
{"t":26.1,"d":-8,"e":-18,"f":9},{"t":26.3,"d":3,"e":11,"f":-7},{"t":26.5,"d":-6,"e":-7,"f":8},{"t":26.7,"d":9,"e":-15,"f":-5},{"t":26.9,"d":-4,"e":19,"f":3},
{"t":27.1,"d":-9,"e":-11,"f":-9},{"t":27.3,"d":7,"e":6,"f":6},{"t":27.5,"d":2,"e":15,"f":-8},{"t":27.7,"d":-7,"e":-18,"f":9},{"t":27.9,"d":9,"e":-8,"f":-4},
{"t":28.1,"d":-5,"e":16,"f":7},{"t":28.3,"d":6,"e":-13,"f":-9},{"t":28.5,"d":-9,"e":9,"f":5},{"t":28.7,"d":8,"e":-17,"f":-7},
{"t":28.9,"a":8,"d":-3,"e":14,"f":9},{"t":29.1,"a":-14,"d":-15,"e":7,"f":-6},{"t":29.3,"a":16,"d":6,"e":-18,"f":8},{"t":29.5,"a":-12,"d":-8,"e":12,"f":-9},
{"t":29.7,"a":6,"b":6,"d":9,"e":-14,"f":4},{"t":29.9,"a":-18,"b":-8,"d":-5,"e":19,"f":-8},{"t":30.1,"a":-30,"b":10,"d":8,"e":-7,"f":9},{"t":30.3,"a":45,"b":-7,"d":-10,"e":22,"f":-5},
{"t":30.5,"a":-40,"b":9,"c":-6,"d":4,"e":-16,"f":7},{"t":30.7,"a":70,"b":-6,"c":9,"d":-7,"e":10,"f":-9},{"t":30.9,"a":-75,"b":8,"c":-5,"d":10,"e":-18,"f":3},
{"t":31.1,"a":55,"b":-10,"c":8,"d":18,"e":15,"f":8},{"t":31.3,"a":-45,"b":7,"c":-7,"d":-12,"e":6,"f":-7},{"t":31.5,"a":30,"b":-9,"c":-4,"d":8,"e":-17,"f":9},
{"t":31.7,"a":-20,"b":12,"c":9,"d":-15,"e":13,"f":-6},{"t":31.9,"a":18,"b":-40,"c":-8,"d":10,"e":-9,"f":5},{"t":32.1,"a":-15,"b":55,"c":6,"d":-8,"e":-15,"f":-9},
{"t":32.3,"a":20,"b":-60,"c":-9,"d":14,"e":18,"f":7},{"t":32.5,"a":-12,"b":45,"c":12,"d":-12,"e":-7,"f":-4},{"t":32.7,"a":17,"b":-35,"c":-14,"d":6,"e":12,"f":8},
{"t":32.9,"a":-14,"b":30,"c":10,"d":-15,"e":-17,"f":-8},{"t":33.1,"a":12,"b":-30,"c":30,"d":9,"e":9,"f":6},{"t":33.3,"a":-16,"b":22,"c":-50,"d":5,"e":14,"f":-9},
{"t":33.5,"a":9,"b":-18,"c":40,"d":-13,"e":-16,"f":3},{"t":33.7,"a":-10,"b":14,"c":-30,"d":16,"e":7,"f":7},{"t":33.9,"a":-8,"b":-20,"c":25,"d":-8,"e":-19,"f":-7},
{"t":34.1,"a":11,"b":15,"c":-28,"d":12,"e":16,"f":9},{"t":34.3,"a":-10,"b":-12,"c":30,"d":-16,"e":-8,"f":-5},{"t":34.5,"a":8,"b":17,"c":-15,"d":10,"e":15,"f":8},
{"t":34.7,"a":12,"b":-10,"c":18,"d":-18,"e":-15,"f":-9},{"t":34.9,"a":-9,"b":9,"c":-14,"d":40,"e":10,"f":4},{"t":35.1,"a":-7,"b":-8,"c":12,"d":-60,"e":-18,"f":-8},
{"t":35.3,"a":10,"b":7,"c":-17,"d":55,"e":45,"f":9},{"t":35.5,"a":-11,"b":-9,"c":10,"d":-40,"e":-30,"f":-6,"h":-8},{"t":35.7,"a":6,"b":6,"c":-12,"d":35,"e":-42,"f":7,"h":10},
{"t":35.9,"a":10,"b":-5,"c":15,"d":-45,"e":35,"f":-9,"h":-12},{"t":36.1,"a":-9,"b":4,"c":-8,"d":30,"e":-20,"f":5,"h":8},{"t":36.3,"a":8,"c":10,"d":-25,"e":60,"f":-8,"h":-10},
{"t":36.5,"a":-10,"c":-9,"d":28,"e":-65,"f":-14,"h":12},{"t":36.7,"a":9,"c":8,"d":-38,"e":40,"f":9,"h":-9},{"t":36.9,"a":5,"c":-11,"d":20,"e":-50,"f":-7,"h":7},
{"t":37.1,"a":-11,"c":7,"d":35,"e":70,"f":8,"h":-13},{"t":37.3,"a":6,"c":-6,"d":-28,"e":-40,"f":-9,"h":9},{"t":37.5,"a":11,"c":10,"d":18,"e":35,"f":4,"h":-8},
{"t":37.7,"a":-8,"c":-9,"d":-32,"e":-45,"f":7,"h":11},{"t":37.9,"a":7,"c":6,"d":22,"e":38,"f":-8,"h":-10},{"t":38.1,"a":-6,"c":-12,"d":-18,"e":-35,"f":9,"h":6},
{"t":38.3,"a":8,"c":9,"d":14,"e":30,"f":-6,"h":-8},{"t":38.5,"a":-7,"c":-7,"d":-12,"e":-28,"f":-15,"h":4},{"t":38.7,"a":-4,"c":10,"d":10,"e":25,"f":8,"h":-4,"i":35},
{"t":38.9,"a":5,"c":-6,"d":-14,"e":-33,"f":-9,"h":3,"i":-40},{"t":39.1,"a":3,"c":8,"d":8,"e":20,"f":7,"h":-5,"i":30},{"t":39.3,"a":-4,"c":-9,"d":-6,"e":-25,"f":-5,"h":4,"i":-35},
{"t":39.5,"a":-3,"c":5,"d":10,"e":30,"f":9,"h":-3,"i":25},{"t":39.7,"a":4,"c":-7,"d":-7,"e":-18,"f":-8,"h":5,"i":-30},{"t":39.9,"a":3,"c":4,"d":9,"e":22,"f":-12,"h":-4,"i":50},
{"t":40.1,"a":2,"c":-3,"d":15,"e":-30,"f":-35,"h":3,"i":-45},{"t":40.3,"a":-3,"c":4,"d":-6,"e":35,"f":60,"h":-5,"i":55},{"t":40.5,"c":-4,"d":9,"e":-38,"f":-40,"h":4,"i":-35},
{"t":40.7,"c":3,"d":-4,"e":28,"f":45,"h":-3,"i":20,"j":15},{"t":40.9,"c":-3,"d":-8,"e":-20,"f":-60,"h":5,"i":-22,"j":-30},
{"t":41.1,"c":4,"d":7,"e":25,"f":50,"g":30,"h":-4,"i":18,"j":20},{"t":41.3,"c":-2,"d":-9,"e":-30,"f":-30,"g":-50,"h":3,"i":-15,"j":-15},
{"t":41.5,"c":3,"d":5,"e":18,"f":40,"g":40,"h":-5,"i":20,"j":10},{"t":41.7,"c":-3,"d":8,"e":-28,"f":-25,"g":-35,"h":20,"i":-12,"j":-8},
{"t":41.9,"c":2,"d":-6,"e":32,"f":20,"g":30,"h":-25,"i":10,"j":9},{"t":42.1,"c":-2,"d":9,"e":-15,"f":-22,"g":-30,"h":40,"i":-11,"j":-7},
{"t":42.3,"c":3,"d":-4,"e":20,"f":18,"g":28,"h":-50,"i":9,"j":10},{"t":42.5,"c":-3,"d":-9,"e":-22,"f":-25,"g":-25,"h":35,"i":-12,"j":-8},
{"t":42.7,"c":2,"d":6,"e":15,"f":20,"g":30,"h":-40,"i":8,"j":6},{"t":42.9,"c":-2,"d":-10,"e":-18,"f":-15,"g":-20,"h":25,"i":-10,"j":-9},
{"t":43.1,"c":2,"d":5,"e":21,"f":22,"g":22,"h":-20,"i":12,"j":7},{"t":43.3,"c":-2,"d":8,"e":-12,"f":-12,"g":-14,"h":18,"i":-7,"j":-6},
{"t":43.5,"c":2,"d":-7,"e":17,"f":15,"g":12,"h":-15,"i":10,"j":9},{"t":43.7,"c":-8,"d":3,"e":-20,"f":-14,"g":-15,"h":12,"i":-9,"j":-8},
{"t":43.9,"c":6,"d":10,"e":14,"f":10,"g":18,"h":-14,"i":11,"j":5},{"t":44.1,"d":-6,"e":-19,"f":13,"g":-12,"h":10,"i":-8,"j":-10},
{"t":44.3,"d":-9,"e":10,"f":-12,"g":20,"h":-12,"i":6,"j":8},{"t":44.5,"d":7,"e":18,"f":-9,"g":-25,"h":15,"i":-12,"j":-7},
{"t":44.7,"d":-4,"e":-15,"f":14,"g":22,"h":-10,"i":9,"j":9},{"t":44.9,"d":9,"e":9,"f":-11,"g":18,"h":8,"i":-7,"j":-5},
{"t":45.1,"d":-10,"e":-20,"f":8,"g":15,"h":-12,"i":10,"j":8},{"t":45.3,"d":5,"e":14,"f":13,"g":-20,"h":9,"i":-11,"j":-9},
{"t":45.5,"d":8,"e":-8,"f":-12,"g":12,"h":-7,"i":8,"j":7},{"t":45.7,"d":-7,"e":19,"f":-8,"g":-10,"h":8,"i":-9,"j":-6},
{"t":45.9,"d":4,"e":-16,"f":14,"g":12,"h":-6,"i":12,"j":10},{"t":46.1,"d":-8,"e":11,"f":-11,"g":8,"h":7,"i":-6,"j":-8},
{"t":46.3,"d":9,"e":-18,"f":7,"g":-10,"h":-5,"i":9,"j":6},{"t":46.5,"d":6,"e":7,"f":-13,"g":14,"h":6,"i":-10,"j":-9},
{"t":46.7,"d":14,"e":-13,"f":12,"g":6,"h":-7,"i":7,"j":7},{"t":46.9,"d":-7,"e":18,"f":-6,"g":-9,"h":4,"i":-12,"j":-5},
{"t":47.1,"d":10,"e":-9,"f":13,"g":7,"h":-5,"i":8,"j":9},{"t":47.3,"d":-5,"e":16,"f":-12,"g":-8,"h":4,"i":-9,"j":-8},
{"t":47.5,"d":-9,"e":-19,"f":9,"g":5,"h":-6,"i":11,"j":6},{"t":47.7,"d":7,"e":8,"f":-13,"g":-7,"h":3,"i":-7,"j":-10},
{"t":47.9,"d":3,"e":14,"f":6,"g":9,"h":-4,"i":10,"j":8},{"t":48.1,"d":-8,"e":-16,"f":12,"g":-5,"h":5,"i":-25,"j":-6},
{"t":48.3,"d":6,"e":6,"f":-10,"g":8,"h":-3,"i":20,"j":9},{"t":48.5,"d":-10,"e":-20,"f":13,"g":-6,"h":4,"i":-15,"j":-7},
{"t":48.7,"d":8,"e":17,"f":-12,"g":4,"h":-5,"i":25,"j":5},{"t":48.9,"d":-4,"e":-10,"f":7,"g":-8,"h":3,"i":40,"j":-9},
{"t":49.1,"d":9,"e":15,"f":-13,"g":7,"h":-4,"i":-50,"j":8},{"t":49.3,"d":-7,"e":-17,"f":11,"g":5,"h":5,"i":45,"j":-7},
{"t":49.5,"d":5,"e":9,"f":-8,"g":-8,"h":-3,"i":-40,"j":10},{"t":49.7,"d":-9,"e":-14,"f":13,"g":6,"h":4,"i":35,"j":-15},
{"t":49.9,"d":8,"e":19,"f":-11,"g":-5,"h":-5,"i":-25,"j":20},{"t":50.1,"d":-4,"e":-8,"f":6,"g":7,"h":3,"i":22,"j":-22},
{"t":50.3,"d":10,"e":16,"f":12,"g":-7,"h":-4,"i":-20,"j":25},{"t":50.5,"d":-7,"e":-18,"f":-13,"g":4,"h":5,"i":25,"j":-18},
{"t":50.7,"d":4,"e":11,"f":9,"g":6,"h":-3,"i":-18,"j":22},{"t":50.9,"d":-9,"e":-13,"f":-12,"g":-6,"h":4,"i":15,"j":-60},
{"t":51.1,"d":7,"e":17,"f":13,"g":8,"h":-5,"i":-12,"j":55},{"t":51.3,"d":-5,"e":7,"f":-7,"g":-5,"h":3,"i":10,"j":-45},
{"t":51.5,"d":9,"e":-16,"f":-12,"g":7,"h":-4,"i":-9,"j":50},{"t":51.7,"d":-8,"e":12,"f":11,"g":-4,"h":5,"i":11,"j":-40},
{"t":51.9,"d":3,"e":-19,"f":-13,"g":5,"h":-3,"i":-8,"j":60},{"t":52.1,"d":8,"e":8,"f":9,"g":-7,"h":4,"i":10,"j":-50},
{"t":52.3,"d":-9,"e":-15,"f":-11,"g":6,"h":-5,"i":-11,"j":45},{"t":52.5,"d":6,"e":18,"f":13,"g":-4,"h":3,"i":7,"j":-30},
{"t":52.7,"d":-4,"e":-9,"f":-6,"g":8,"h":-4,"i":-9,"j":18},{"t":52.9,"d":9,"e":13,"f":12,"g":-6,"h":5,"i":12,"j":-15},
{"t":53.1,"d":-7,"e":-17,"f":-13,"g":4,"h":-3,"i":-8,"j":12},{"t":53.3,"d":4,"e":6,"f":8,"g":-7,"h":4,"i":9,"j":-10},
{"t":53.5,"d":-10,"e":-12,"f":-12,"g":8,"h":-5,"i":-10,"j":14},{"t":53.7,"d":8,"e":18,"f":13,"g":-4,"h":3,"i":6,"j":-12},
{"t":53.9,"d":-6,"e":-15,"f":-9,"g":6,"h":-4,"i":-9,"j":9},{"t":54.1,"d":5,"e":10,"f":11,"g":-8,"h":5,"i":11,"j":-8},
{"t":54.3,"d":-8,"e":-18,"f":-13,"g":5,"h":-3,"i":-7,"j":7},{"t":54.5,"d":9,"e":14,"f":7,"g":-6,"h":4,"i":10,"j":-9},
{"t":54.7,"d":-3,"e":7,"f":-12,"g":7,"h":-5,"i":-9,"j":6},{"t":54.9,"d":7,"e":-19,"f":13,"g":4,"h":3,"i":8,"j":-8},
{"t":55.1,"d":-9,"e":12,"f":-10,"g":-7,"h":-4,"i":-11,"j":9},{"t":55.3,"d":6,"e":-8,"f":12,"g":6,"h":5,"i":7,"j":-6},
{"t":55.5,"d":-5,"e":16,"f":-13,"g":-5,"h":-3,"i":-8,"j":8},{"t":55.7,"d":9,"e":-14,"f":8,"g":8,"h":4,"i":10,"j":-7},
{"t":55.9,"d":-8,"e":9,"f":-12,"g":-6,"h":-5,"i":-9,"j":5},{"t":56.1,"d":3,"e":-17,"f":13,"g":4,"h":3,"i":6,"j":-9},
{"t":56.3,"d":8,"e":13,"f":-9,"g":-7,"h":-4,"i":-10,"j":7},{"t":56.5,"d":-9,"e":-6,"f":11,"g":6,"h":5,"i":9,"j":-6},
{"t":56.7,"d":6,"e":18,"f":-13,"g":-5,"h":-3,"i":-7,"j":9},{"t":56.9,"d":-4,"e":-12,"f":7,"g":8,"h":4,"i":11,"j":-8},
{"t":57.1,"d":9,"e":8,"f":12,"g":-4,"h":-5,"i":-8,"j":5},{"t":57.3,"d":-7,"e":-18,"f":-12,"g":6,"h":3,"i":9,"j":-7},
{"t":57.5,"d":5,"e":15,"f":9,"g":-7,"h":-4,"i":-10,"j":8},{"t":57.7,"d":-10,"e":-9,"f":-13,"g":5,"h":5,"i":7,"j":-6},
{"t":57.9,"d":7,"e":17,"f":11,"g":-6,"h":-3,"i":-9,"j":9},{"t":58.1,"d":-3,"e":-14,"f":-8,"g":7,"h":4,"i":10,"j":-8},
{"t":58.3,"d":8,"e":7,"f":13,"g":-5,"h":-5,"i":15,"j":6},{"t":58.5,"d":12,"e":-19,"f":-12,"g":4,"h":3,"i":-12,"j":-9},
{"t":58.7,"d":-8,"e":12,"f":10,"g":-7,"h":-4,"i":8,"j":7},{"t":58.9,"d":5,"e":16,"f":-13,"g":6,"h":5,"i":-9,"j":-5},
{"t":59.1,"d":-9,"e":-10,"f":8,"g":-5,"h":-3,"i":11,"j":8},{"t":59.3,"d":7,"e":14,"f":-12,"g":8,"h":4,"i":-7,"j":-7},
{"t":59.5,"d":-4,"e":-17,"f":13,"g":-6,"h":-5,"i":9,"j":6},{"t":59.7,"d":-8,"e":8,"f":-9,"g":4,"h":3,"i":-10,"j":-9},
{"t":59.9,"d":6,"e":-13,"f":11,"g":-6,"h":-4,"i":8,"j":7},
{"t":0.1,"g":3,"h":2,"i":10,"j":3},{"t":0.3,"g":-9,"h":-4,"i":1,"j":-3},{"t":0.5,"g":2,"h":0,"i":-8,"j":0},{"t":0.7,"g":5,"h":4,"i":-1,"j":2},{"t":0.9,"g":-1,"h":1,"i":9,"j":-1},
{"t":1.1,"g":-4,"h":-2,"i":3,"j":-2},{"t":1.3,"g":8,"h":-2,"i":-8,"j":3},{"t":1.5,"g":0,"h":-5,"i":-2,"j":-1},{"t":1.7,"g":-2,"h":2,"i":3,"j":-2},{"t":1.9,"g":-5,"h":3,"i":9,"j":2},
{"t":2.1,"g":3,"h":5,"i":-3,"j":1},{"t":2.3,"g":7,"h":-2,"i":-7,"j":0},{"t":2.5,"g":1,"h":-3,"i":-6,"j":-3},{"t":2.7,"g":-4,"h":-6,"i":8,"j":3},{"t":2.9,"g":-8,"h":1,"i":6,"j":0},
{"t":3.1,"g":-1,"h":1,"i":3,"j":-1},{"t":3.3,"g":7,"h":4,"i":-9,"j":2},{"t":3.5,"g":2,"h":-3,"i":-4,"j":2},{"t":3.7,"g":-3,"h":-2,"i":2,"j":3},{"t":3.9,"g":-6,"h":-1,"i":9,"j":-2},
{"t":4.1,"g":1,"h":3,"i":2,"j":1},{"t":4.3,"g":7,"h":2,"i":-9,"j":0},{"t":4.5,"g":1,"h":5,"i":-5,"j":-3},{"t":4.7,"g":-7,"h":-3,"i":7,"j":-1},{"t":4.9,"g":3,"h":-1,"i":4,"j":3},
{"t":5.1,"g":3,"h":1,"i":-3,"j":1},{"t":5.3,"g":6,"h":4,"i":-9,"j":-2},{"t":5.5,"g":-1,"h":0,"i":-1,"j":2},{"t":5.7,"g":-8,"h":-3,"i":6,"j":0},{"t":5.9,"g":1,"h":0,"i":10,"j":-3},
{"t":6.1,"g":1,"h":5,"i":8,"j":1},{"t":6.3,"g":4,"h":1,"i":-2,"j":0},{"t":6.5,"g":-2,"h":0,"i":-8,"j":-1},{"t":6.7,"g":-5,"h":-5,"i":-2,"j":3},{"t":6.9,"g":1,"h":-2,"i":5,"j":1},
{"t":7.1,"g":7,"h":2,"i":8,"j":-2},{"t":7.3,"g":2,"h":3,"i":0,"j":-1},{"t":7.5,"g":-3,"h":5,"i":-7,"j":0},{"t":7.7,"g":-6,"h":-1,"i":-4,"j":1},{"t":7.9,"g":0,"h":-2,"i":6,"j":0},
{"t":8.1,"g":4,"h":-4,"i":7,"j":-1},{"t":8.3,"g":5,"h":2,"i":-3,"j":2},{"t":8.5,"g":-1,"h":5,"i":-8,"j":2},{"t":8.7,"g":-4,"h":1,"i":-1,"j":-2},{"t":8.9,"g":2,"h":-3,"i":7,"j":0},
{"t":9.1,"g":5,"h":-1,"i":4,"j":1},{"t":9.3,"g":-1,"h":-1,"i":-3,"j":1},{"t":9.5,"g":-7,"h":5,"i":-8,"j":-2},{"t":9.7,"g":3,"h":1,"i":-5,"j":-1},{"t":9.9,"g":3,"h":-2,"i":7,"j":2},
{"t":10.1,"g":5,"h":-5,"i":9,"j":1},{"t":10.3,"g":-2,"h":-1,"i":0,"j":-1},{"t":10.5,"g":-8,"h":2,"i":-9,"j":0},{"t":10.7,"g":2,"h":5,"i":-7,"j":2},{"t":10.9,"g":3,"h":1,"i":5,"j":1},
{"t":11.1,"g":7,"h":-3,"i":8,"j":-1},{"t":11.3,"g":0,"h":-1,"i":-2,"j":-2},{"t":11.5,"g":-3,"h":-1,"i":-9,"j":2},{"t":11.7,"g":-5,"h":5,"i":-1,"j":0},{"t":11.9,"g":1,"h":1,"i":6,"j":-2},
{"t":12.1,"g":5,"h":-2,"i":6,"j":3},{"t":12.3,"g":0,"h":-4,"i":-4,"j":-1},{"t":12.5,"g":-3,"h":-2,"i":-8,"j":1},{"t":12.7,"g":-6,"h":4,"i":1,"j":-2},{"t":12.9,"g":2,"h":1,"i":7,"j":2},
{"t":13.1,"g":7,"h":0,"i":6,"j":5},{"t":13.3,"g":-2,"h":-5,"i":-4,"j":15},{"t":13.5,"g":-7,"h":-1,"i":-9,"j":12},{"t":13.7,"g":0,"h":2,"i":-2,"j":1},{"t":13.9,"g":1,"h":5,"i":7,"j":-1},
{"t":14.1,"g":7,"h":1,"i":8,"j":-1},{"t":14.3,"g":-1,"h":-1,"i":-1,"j":0},{"t":14.5,"g":-6,"h":2,"i":-9,"j":1},{"t":14.7,"g":-1,"h":9,"i":-6,"j":2},{"t":14.9,"g":0,"h":7,"i":6,"j":0},
{"t":15.1,"g":7,"h":1,"i":8,"j":-1},{"t":15.3,"g":1,"h":-5,"i":1,"j":0},{"t":15.5,"g":-3,"h":-2,"i":-7,"j":2},{"t":15.7,"g":-5,"h":1,"i":-4,"j":1},{"t":15.9,"g":2,"h":4,"i":7,"j":-1},
{"t":16.1,"g":6,"h":1,"i":6,"j":1},{"t":16.3,"g":0,"h":-3,"i":-4,"j":-1},{"t":16.5,"g":-7,"h":-1,"i":-8,"j":-1},{"t":16.7,"g":-2,"h":0,"i":0,"j":0},{"t":16.9,"g":3,"h":5,"i":8,"j":1},
{"t":17.1,"g":6,"h":1,"i":4,"j":0},{"t":17.3,"g":-1,"h":-4,"i":-7,"j":-1},{"t":17.5,"g":-7,"h":-2,"i":-3,"j":2},{"t":17.7,"g":4,"h":-1,"i":8,"j":1},{"t":17.9,"g":2,"h":5,"i":9,"j":0},
{"t":18.1,"g":-3,"h":2,"i":1,"j":-1},{"t":18.3,"g":-3,"h":-2,"i":-8,"j":0},{"t":18.5,"g":-6,"h":-5,"i":-5,"j":1},{"t":18.7,"g":1,"h":-1,"i":5,"j":-1},{"t":18.9,"g":7,"h":2,"i":7,"j":2},
{"t":19.1,"g":-2,"h":5,"i":-3,"j":1},{"t":19.3,"g":-2,"h":1,"i":-9,"j":-1},{"t":19.5,"g":-5,"h":-4,"i":-4,"j":0},{"t":19.7,"g":1,"h":-1,"i":7,"j":1},{"t":19.9,"g":6,"h":0,"i":7,"j":1},
{"t":20.1,"g":0,"h":5,"i":1,"j":-2},{"t":20.3,"g":-7,"h":2,"i":-7,"j":-1},{"t":20.5,"g":2,"h":-2,"i":-4,"j":2},{"t":20.7,"g":3,"h":-5,"i":7,"j":0},{"t":20.9,"g":6,"h":0,"i":8,"j":-1},
{"t":21.1,"g":-1,"h":2,"i":-2,"j":1},{"t":21.3,"g":-7,"h":4,"i":-9,"j":0},{"t":21.5,"g":3,"h":1,"i":-5,"j":-1},{"t":21.7,"g":3,"h":-4,"i":5,"j":0},{"t":21.9,"g":5,"h":-1,"i":8,"j":2},
{"t":22.1,"g":-2,"h":0,"i":1,"j":0},{"t":22.3,"g":-7,"h":5,"i":-8,"j":-1},{"t":22.5,"g":-1,"h":2,"i":-3,"j":1},{"t":22.7,"g":6,"h":-3,"i":7,"j":0},{"t":22.9,"g":2,"h":-3,"i":6,"j":1},
{"t":23.1,"g":-3,"h":-2,"i":-1,"j":-2},{"t":23.3,"g":-5,"h":3,"i":-8,"j":0},{"t":23.5,"g":2,"h":4,"i":-2,"j":1},{"t":23.7,"g":7,"h":0,"i":7,"j":-1},{"t":23.9,"g":1,"h":-4,"i":5,"j":0},
{"t":24.1,"g":-7,"h":-4,"i":-3,"j":1},{"t":24.3,"g":2,"h":1,"i":-9,"j":-1},{"t":24.5,"g":3,"h":4,"i":-2,"j":0},{"t":24.7,"g":5,"h":3,"i":6,"j":2},{"t":24.9,"g":-2,"h":-2,"i":8,"j":1},
{"t":25.1,"g":-7,"h":-5,"i":1,"j":-1},{"t":25.3,"g":0,"h":-2,"i":-8,"j":0},{"t":25.5,"g":7,"h":2,"i":-3,"j":1},{"t":25.7,"g":-2,"h":5,"i":5,"j":0},{"t":25.9,"g":-2,"h":1,"i":9,"j":6},
{"t":26.1,"g":-5,"h":-4,"i":1,"j":4},{"t":26.3,"g":2,"h":-1,"i":-7,"j":0},{"t":26.5,"g":6,"h":1,"i":-3,"j":1},{"t":26.7,"g":0,"h":4,"i":5,"j":-1},{"t":26.9,"g":-7,"h":3,"i":7,"j":5},
{"t":27.1,"g":2,"h":-2,"i":-1,"j":4},{"t":27.3,"g":3,"h":-5,"i":-9,"j":0},{"t":27.5,"g":6,"h":-1,"i":-2,"j":1},{"t":27.7,"g":-1,"h":1,"i":8,"j":0},{"t":27.9,"g":-7,"h":5,"i":6,"j":-1},
{"t":28.1,"g":3,"h":2,"i":-3,"j":4},{"t":28.3,"g":3,"h":-3,"i":-9,"j":3},{"t":28.5,"g":5,"h":-1,"i":-2,"j":-1},{"t":28.7,"g":-1,"h":0,"i":6,"j":0},{"t":28.9,"g":-4,"h":5,"i":7,"j":1},
{"t":29.1,"g":3,"h":2,"i":0,"j":0},{"t":29.3,"g":7,"h":-2,"i":-8,"j":-1},{"t":29.5,"g":1,"h":-5,"i":-2,"j":1},{"t":29.7,"g":-3,"h":0,"i":7,"j":1},{"t":29.9,"g":-6,"h":2,"i":8,"j":0},
{"t":30.1,"g":1,"h":5,"i":1,"j":0},{"t":30.3,"g":6,"h":1,"i":-8,"j":8},{"t":30.5,"g":1,"h":-4,"i":-5,"j":14},{"t":30.7,"g":-8,"h":-1,"i":6,"j":13},{"t":30.9,"g":0,"h":1,"i":7,"j":6},
{"t":31.1,"g":2,"h":5,"i":-1,"j":0},{"t":31.3,"g":5,"h":0,"i":-9,"j":1},{"t":31.5,"g":0,"h":-5,"i":-1,"j":1},{"t":31.7,"g":-7,"h":-2,"i":8,"j":2},{"t":31.9,"g":3,"h":3,"i":8,"j":-1},
{"t":32.1,"g":3,"h":4,"i":0,"j":-1},{"t":32.3,"g":5,"h":0,"i":-8,"j":0},{"t":32.5,"g":-2,"h":-4,"i":-4,"j":1},{"t":32.7,"g":-5,"h":-1,"i":6,"j":0},{"t":32.9,"g":1,"h":2,"i":8,"j":-1},
{"t":33.1,"g":7,"h":5,"i":0,"j":1},{"t":33.3,"g":2,"h":2,"i":-8,"j":1},{"t":33.5,"g":-3,"h":-3,"i":-6,"j":1},{"t":33.7,"g":-6,"h":-1,"i":5,"j":0},{"t":33.9,"g":1,"h":0,"i":9,"j":-1},
{"t":34.1,"g":7,"h":5,"i":1,"j":1},{"t":34.3,"g":-2,"h":2,"i":-8,"j":1},{"t":34.5,"g":-7,"h":-2,"i":-2,"j":-1},{"t":34.7,"g":0,"h":-5,"i":6,"j":0},{"t":34.9,"g":1,"h":-2,"i":7,"j":-1},
{"t":35.1,"g":7,"h":1,"i":-1,"j":0},{"t":35.3,"g":2,"h":8,"i":-8,"j":1},{"t":35.5,"g":-3,"i":-3,"j":0},{"t":35.7,"g":-5,"i":6,"j":1},{"t":35.9,"g":2,"i":8,"j":-1},
{"t":36.1,"g":6,"i":1,"j":0},{"t":36.3,"g":0,"i":-8,"j":1},{"t":36.5,"g":-7,"i":-5,"j":-1},{"t":36.7,"g":2,"i":6,"j":0},{"t":36.9,"g":3,"i":7,"j":-1},
{"t":37.1,"g":6,"i":-3,"j":1},{"t":37.3,"g":-1,"i":-9,"j":0},{"t":37.5,"g":-7,"i":-1,"j":0},{"t":37.7,"g":3,"i":8,"j":0},{"t":37.9,"g":3,"i":8,"j":1},
{"t":38.1,"g":5,"i":-1,"j":1},{"t":38.3,"g":-2,"i":-8,"j":0},{"t":38.5,"g":-6,"i":3,"j":0},{"t":38.7,"g":1,"j":6},{"t":38.9,"g":7,"j":7},
{"t":39.1,"g":1,"j":1},{"t":39.3,"g":-7,"j":-1},{"t":39.5,"g":1,"j":0},{"t":39.7,"g":2,"j":1},{"t":39.9,"g":7,"j":1},
{"t":40.1,"g":0,"j":-1},{"t":40.3,"g":-7,"j":0},{"t":40.5,"g":2,"j":4},{"t":40.7,"g":3},{"t":40.9,"g":5}
]},
"vconcat": [
{"data": {"name": "w"}, "width": 1796, "height": 160, "mark": {"type": "line", "color": "black", "strokeWidth": 1.9, "clip": true, "invalid": "filter"},
 "encoding": {"x": {"field": "t", "type": "quantitative", "scale": {"domain": [0, 60], "nice": false, "zero": false}, "axis": {"values": [20, 40], "labels": false, "title": null, "domain": false, "grid": false, "tickSize": -8, "tickWidth": 2, "tickColor": "black"}},
  "y": {"field": "a", "type": "quantitative", "scale": {"domain": [-100, 100]}, "axis": {"title": "MUTEZ", "titleAngle": 0, "titleAlign": "right", "titleBaseline": "middle", "titleX": -21, "titleY": 80, "titleFont": "Liberation Sans", "titleFontSize": 37.5, "titleFontWeight": "normal", "titleColor": "black", "labels": false, "ticks": false, "domain": false, "grid": false}}}},
{"data": {"name": "w"}, "width": 1796, "height": 160, "mark": {"type": "line", "color": "black", "strokeWidth": 1.9, "clip": true, "invalid": "filter"},
 "encoding": {"x": {"field": "t", "type": "quantitative", "scale": {"domain": [0, 60], "nice": false, "zero": false}, "axis": {"values": [20, 40], "labels": false, "title": null, "domain": false, "grid": false, "tickSize": -8, "tickWidth": 2, "tickColor": "black"}},
  "y": {"field": "b", "type": "quantitative", "scale": {"domain": [-100, 100]}, "axis": {"title": "HAUIG", "titleAngle": 0, "titleAlign": "right", "titleBaseline": "middle", "titleX": -21, "titleY": 80, "titleFont": "Liberation Sans", "titleFontSize": 37.5, "titleFontWeight": "normal", "titleColor": "black", "labels": false, "ticks": false, "domain": false, "grid": false}}}},
{"data": {"name": "w"}, "width": 1796, "height": 160, "mark": {"type": "line", "color": "black", "strokeWidth": 1.9, "clip": true, "invalid": "filter"},
 "encoding": {"x": {"field": "t", "type": "quantitative", "scale": {"domain": [0, 60], "nice": false, "zero": false}, "axis": {"values": [20, 40], "labels": false, "title": null, "domain": false, "grid": false, "tickSize": -8, "tickWidth": 2, "tickColor": "black"}},
  "y": {"field": "c", "type": "quantitative", "scale": {"domain": [-100, 100]}, "axis": {"title": "ENDD", "titleAngle": 0, "titleAlign": "right", "titleBaseline": "middle", "titleX": -21, "titleY": 80, "titleFont": "Liberation Sans", "titleFontSize": 37.5, "titleFontWeight": "normal", "titleColor": "black", "labels": false, "ticks": false, "domain": false, "grid": false}}}},
{"data": {"name": "w"}, "width": 1796, "height": 160, "mark": {"type": "line", "color": "black", "strokeWidth": 1.9, "clip": true, "invalid": "filter"},
 "encoding": {"x": {"field": "t", "type": "quantitative", "scale": {"domain": [0, 60], "nice": false, "zero": false}, "axis": {"values": [20, 40], "labels": false, "title": null, "domain": false, "grid": false, "tickSize": -8, "tickWidth": 2, "tickColor": "black"}},
  "y": {"field": "d", "type": "quantitative", "scale": {"domain": [-100, 100]}, "axis": {"title": "BALST", "titleAngle": 0, "titleAlign": "right", "titleBaseline": "middle", "titleX": -21, "titleY": 80, "titleFont": "Liberation Sans", "titleFontSize": 37.5, "titleFontWeight": "normal", "titleColor": "black", "labels": false, "ticks": false, "domain": false, "grid": false}}}},
{"data": {"name": "w"}, "width": 1796, "height": 160, "mark": {"type": "line", "color": "black", "strokeWidth": 1.9, "clip": true, "invalid": "filter"},
 "encoding": {"x": {"field": "t", "type": "quantitative", "scale": {"domain": [0, 60], "nice": false, "zero": false}, "axis": {"values": [20, 40], "labels": false, "title": null, "domain": false, "grid": false, "tickSize": -8, "tickWidth": 2, "tickColor": "black"}},
  "y": {"field": "e", "type": "quantitative", "scale": {"domain": [-100, 100]}, "axis": {"title": "ILLF", "titleAngle": 0, "titleAlign": "right", "titleBaseline": "middle", "titleX": -21, "titleY": 80, "titleFont": "Liberation Sans", "titleFontSize": 37.5, "titleFontWeight": "normal", "titleColor": "black", "labels": false, "ticks": false, "domain": false, "grid": false}}}},
{"data": {"name": "w"}, "width": 1796, "height": 160, "mark": {"type": "line", "color": "black", "strokeWidth": 1.9, "clip": true, "invalid": "filter"},
 "encoding": {"x": {"field": "t", "type": "quantitative", "scale": {"domain": [0, 60], "nice": false, "zero": false}, "axis": {"values": [20, 40], "labels": false, "title": null, "domain": false, "grid": false, "tickSize": -8, "tickWidth": 2, "tickColor": "black"}},
  "y": {"field": "f", "type": "quantitative", "scale": {"domain": [-100, 100]}, "axis": {"title": "FELD", "titleAngle": 0, "titleAlign": "right", "titleBaseline": "middle", "titleX": -21, "titleY": 80, "titleFont": "Liberation Sans", "titleFontSize": 37.5, "titleFontWeight": "normal", "titleColor": "black", "labels": false, "ticks": false, "domain": false, "grid": false}}}},
{"data": {"name": "w"}, "width": 1796, "height": 160, "mark": {"type": "line", "color": "black", "strokeWidth": 1.9, "clip": true, "invalid": "filter"},
 "encoding": {"x": {"field": "t", "type": "quantitative", "scale": {"domain": [0, 60], "nice": false, "zero": false}, "axis": {"values": [20, 40], "labels": false, "title": null, "domain": false, "grid": false, "tickSize": -8, "tickWidth": 2, "tickColor": "black"}},
  "y": {"field": "g", "type": "quantitative", "scale": {"domain": [-100, 100]}, "axis": {"title": "KIZ", "titleAngle": 0, "titleAlign": "right", "titleBaseline": "middle", "titleX": -21, "titleY": 80, "titleFont": "Liberation Sans", "titleFontSize": 37.5, "titleFontWeight": "normal", "titleColor": "black", "labels": false, "ticks": false, "domain": false, "grid": false}}}},
{"data": {"name": "w"}, "width": 1796, "height": 160, "mark": {"type": "line", "color": "black", "strokeWidth": 1.9, "clip": true, "invalid": "filter"},
 "encoding": {"x": {"field": "t", "type": "quantitative", "scale": {"domain": [0, 60], "nice": false, "zero": false}, "axis": {"values": [20, 40], "labels": false, "title": null, "domain": false, "grid": false, "tickSize": -8, "tickWidth": 2, "tickColor": "black"}},
  "y": {"field": "h", "type": "quantitative", "scale": {"domain": [-100, 100]}, "axis": {"title": "METMA", "titleAngle": 0, "titleAlign": "right", "titleBaseline": "middle", "titleX": -21, "titleY": 80, "titleFont": "Liberation Sans", "titleFontSize": 37.5, "titleFontWeight": "normal", "titleColor": "black", "labels": false, "ticks": false, "domain": false, "grid": false}}}},
{"data": {"name": "w"}, "width": 1796, "height": 160, "mark": {"type": "line", "color": "black", "strokeWidth": 1.9, "clip": true, "invalid": "filter"},
 "encoding": {"x": {"field": "t", "type": "quantitative", "scale": {"domain": [0, 60], "nice": false, "zero": false}, "axis": {"values": [20, 40], "labels": false, "title": null, "domain": false, "grid": false, "tickSize": -8, "tickWidth": 2, "tickColor": "black"}},
  "y": {"field": "i", "type": "quantitative", "scale": {"domain": [-100, 100]}, "axis": {"title": "SLE", "titleAngle": 0, "titleAlign": "right", "titleBaseline": "middle", "titleX": -21, "titleY": 80, "titleFont": "Liberation Sans", "titleFontSize": 37.5, "titleFontWeight": "normal", "titleColor": "black", "labels": false, "ticks": false, "domain": false, "grid": false}}}},
{"data": {"name": "w"}, "width": 1796, "height": 160, "mark": {"type": "line", "color": "black", "strokeWidth": 1.9, "clip": true, "invalid": "filter"},
 "encoding": {"x": {"field": "t", "type": "quantitative", "scale": {"domain": [0, 60], "nice": false, "zero": false}, "axis": {"values": [0, 20, 40], "labels": true, "labelFlush": false, "labelFont": "Liberation Sans", "labelFontSize": 33, "labelColor": "black", "labelPadding": 12, "title": "Zeit[s]", "titleFont": "Liberation Sans", "titleFontSize": 36, "titleFontWeight": "bold", "titleColor": "black", "titlePadding": 16, "domain": false, "grid": false, "tickSize": -8, "tickWidth": 2, "tickColor": "black"}},
  "y": {"field": "j", "type": "quantitative", "scale": {"domain": [-100, 100]}, "axis": {"title": "ECH", "titleAngle": 0, "titleAlign": "right", "titleBaseline": "middle", "titleX": -21, "titleY": 80, "titleFont": "Liberation Sans", "titleFontSize": 37.5, "titleFontWeight": "normal", "titleColor": "black", "labels": false, "ticks": false, "domain": false, "grid": false}}}}
]
}
